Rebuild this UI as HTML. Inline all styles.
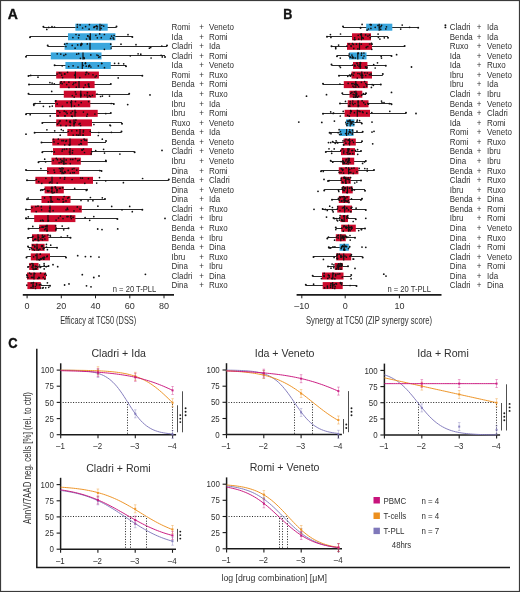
<!DOCTYPE html><html><head><meta charset="utf-8"><style>html,body{margin:0;padding:0;background:#fff;}svg{display:block;will-change:transform}</style></head><body>
<svg width="520" height="592" viewBox="0 0 520 592" font-family='"Liberation Sans", sans-serif'>
<rect x="0" y="0" width="520" height="592" fill="#fff"/>
<rect x="0.5" y="0.5" width="519" height="591" fill="none" stroke="#3a3a3a" stroke-width="1.2"/>
<text x="7.8" y="19.2" font-size="14" font-weight="bold" fill="#111" stroke="#111" stroke-width="0.35">A</text>
<text transform="matrix(0.9,0,0,1,283.2,19.3)" font-size="14" font-weight="bold" fill="#111" stroke="#111" stroke-width="0.35">B</text>
<text transform="matrix(0.92,0,0,1,8.2,347.8)" font-size="14" font-weight="bold" fill="#111" stroke="#111" stroke-width="0.35">C</text>
<line x1="43.4" y1="27.50" x2="116.5" y2="27.50" stroke="#2a2a2a" stroke-width="1.0"/>
<circle cx="43.4" cy="26.85" r="1.0" fill="#111"/>
<circle cx="116.5" cy="26.50" r="1.0" fill="#111"/>
<rect x="75.4" y="23.70" width="32.3" height="7.0" fill="#3aa6dd"/>
<line x1="100.0" y1="23.70" x2="100.0" y2="30.70" stroke="#111" stroke-width="1.2"/>
<circle cx="48.7" cy="27.4" r="0.85" fill="#111"/>
<circle cx="77.3" cy="27.2" r="0.85" fill="#111"/>
<circle cx="89.4" cy="24.6" r="0.85" fill="#111"/>
<circle cx="89.1" cy="29.2" r="0.85" fill="#111"/>
<circle cx="82.6" cy="28.0" r="0.85" fill="#111"/>
<circle cx="85.6" cy="26.6" r="0.85" fill="#111"/>
<circle cx="46.8" cy="29.4" r="0.85" fill="#111"/>
<circle cx="80.1" cy="24.9" r="0.85" fill="#111"/>
<circle cx="101.8" cy="25.3" r="0.85" fill="#111"/>
<circle cx="96.0" cy="26.4" r="0.85" fill="#111"/>
<circle cx="77.4" cy="24.6" r="0.85" fill="#111"/>
<circle cx="97.4" cy="26.8" r="0.85" fill="#111"/>
<circle cx="94.3" cy="26.9" r="0.85" fill="#111"/>
<circle cx="101.1" cy="28.4" r="0.85" fill="#111"/>
<circle cx="94.0" cy="27.4" r="0.85" fill="#111"/>
<circle cx="96.7" cy="25.9" r="0.85" fill="#111"/>
<circle cx="52.0" cy="26.7" r="0.85" fill="#111"/>
<circle cx="54.5" cy="27.1" r="0.85" fill="#111"/>
<circle cx="97.0" cy="28.8" r="0.85" fill="#111"/>
<circle cx="103.7" cy="26.1" r="0.85" fill="#111"/>
<line x1="30.0" y1="36.50" x2="132.3" y2="36.50" stroke="#2a2a2a" stroke-width="1.0"/>
<circle cx="30.0" cy="37.16" r="1.0" fill="#111"/>
<circle cx="132.3" cy="36.96" r="1.0" fill="#111"/>
<rect x="68.0" y="33.27" width="47.4" height="7.0" fill="#3aa6dd"/>
<line x1="90.3" y1="33.27" x2="90.3" y2="40.27" stroke="#111" stroke-width="1.2"/>
<circle cx="89.6" cy="38.8" r="0.85" fill="#111"/>
<circle cx="78.5" cy="37.8" r="0.85" fill="#111"/>
<circle cx="101.3" cy="37.7" r="0.85" fill="#111"/>
<circle cx="114.1" cy="35.5" r="0.85" fill="#111"/>
<circle cx="99.7" cy="33.9" r="0.85" fill="#111"/>
<circle cx="76.0" cy="34.5" r="0.85" fill="#111"/>
<circle cx="104.4" cy="34.5" r="0.85" fill="#111"/>
<circle cx="86.5" cy="39.0" r="0.85" fill="#111"/>
<circle cx="89.3" cy="37.1" r="0.85" fill="#111"/>
<circle cx="113.8" cy="39.0" r="0.85" fill="#111"/>
<circle cx="87.7" cy="35.9" r="0.85" fill="#111"/>
<circle cx="128.0" cy="34.7" r="0.85" fill="#111"/>
<circle cx="79.0" cy="35.2" r="0.85" fill="#111"/>
<circle cx="95.9" cy="35.3" r="0.85" fill="#111"/>
<circle cx="87.9" cy="36.0" r="0.85" fill="#111"/>
<circle cx="113.2" cy="37.9" r="0.85" fill="#111"/>
<circle cx="97.3" cy="37.8" r="0.85" fill="#111"/>
<circle cx="110.6" cy="38.4" r="0.85" fill="#111"/>
<circle cx="111.6" cy="36.1" r="0.85" fill="#111"/>
<circle cx="72.9" cy="37.6" r="0.85" fill="#111"/>
<line x1="47.7" y1="46.50" x2="167.0" y2="46.50" stroke="#2a2a2a" stroke-width="1.0"/>
<circle cx="47.7" cy="45.46" r="1.0" fill="#111"/>
<circle cx="167.0" cy="45.47" r="1.0" fill="#111"/>
<rect x="64.6" y="42.84" width="46.9" height="7.0" fill="#3aa6dd"/>
<line x1="90.0" y1="42.84" x2="90.0" y2="49.84" stroke="#111" stroke-width="1.2"/>
<circle cx="72.2" cy="45.4" r="0.85" fill="#111"/>
<circle cx="64.6" cy="44.2" r="0.85" fill="#111"/>
<circle cx="81.7" cy="43.5" r="0.85" fill="#111"/>
<circle cx="121.0" cy="44.2" r="0.85" fill="#111"/>
<circle cx="80.9" cy="45.5" r="0.85" fill="#111"/>
<circle cx="104.4" cy="49.3" r="0.85" fill="#111"/>
<circle cx="87.3" cy="43.9" r="0.85" fill="#111"/>
<circle cx="80.7" cy="44.9" r="0.85" fill="#111"/>
<circle cx="67.0" cy="43.5" r="0.85" fill="#111"/>
<circle cx="110.7" cy="44.2" r="0.85" fill="#111"/>
<circle cx="65.9" cy="46.5" r="0.85" fill="#111"/>
<circle cx="150.7" cy="47.5" r="0.85" fill="#111"/>
<circle cx="81.8" cy="44.3" r="0.85" fill="#111"/>
<circle cx="111.2" cy="48.0" r="0.85" fill="#111"/>
<circle cx="75.1" cy="48.2" r="0.85" fill="#111"/>
<circle cx="149.4" cy="48.2" r="0.85" fill="#111"/>
<circle cx="136.0" cy="44.7" r="0.85" fill="#111"/>
<circle cx="81.3" cy="43.5" r="0.85" fill="#111"/>
<circle cx="77.7" cy="44.9" r="0.85" fill="#111"/>
<circle cx="161.8" cy="46.0" r="0.85" fill="#111"/>
<line x1="26.0" y1="55.50" x2="165.0" y2="55.50" stroke="#2a2a2a" stroke-width="1.0"/>
<circle cx="26.0" cy="56.78" r="1.0" fill="#111"/>
<circle cx="165.0" cy="56.89" r="1.0" fill="#111"/>
<rect x="50.8" y="52.41" width="50.7" height="7.0" fill="#3aa6dd"/>
<line x1="83.0" y1="52.41" x2="83.0" y2="59.41" stroke="#111" stroke-width="1.2"/>
<circle cx="76.7" cy="54.2" r="0.85" fill="#111"/>
<circle cx="60.8" cy="54.1" r="0.85" fill="#111"/>
<circle cx="151.1" cy="58.0" r="0.85" fill="#111"/>
<circle cx="83.9" cy="57.7" r="0.85" fill="#111"/>
<circle cx="84.3" cy="58.4" r="0.85" fill="#111"/>
<circle cx="130.3" cy="55.8" r="0.85" fill="#111"/>
<circle cx="90.8" cy="54.9" r="0.85" fill="#111"/>
<circle cx="161.1" cy="55.3" r="0.85" fill="#111"/>
<circle cx="98.8" cy="57.3" r="0.85" fill="#111"/>
<circle cx="57.2" cy="53.8" r="0.85" fill="#111"/>
<circle cx="138.1" cy="53.8" r="0.85" fill="#111"/>
<circle cx="162.3" cy="56.9" r="0.85" fill="#111"/>
<circle cx="78.6" cy="53.7" r="0.85" fill="#111"/>
<circle cx="100.0" cy="56.8" r="0.85" fill="#111"/>
<circle cx="98.1" cy="55.5" r="0.85" fill="#111"/>
<circle cx="140.8" cy="54.2" r="0.85" fill="#111"/>
<circle cx="65.7" cy="54.4" r="0.85" fill="#111"/>
<circle cx="63.9" cy="55.4" r="0.85" fill="#111"/>
<circle cx="96.9" cy="55.0" r="0.85" fill="#111"/>
<circle cx="80.4" cy="58.3" r="0.85" fill="#111"/>
<line x1="54.6" y1="65.50" x2="126.0" y2="65.50" stroke="#2a2a2a" stroke-width="1.0"/>
<circle cx="54.6" cy="65.32" r="1.0" fill="#111"/>
<circle cx="126.0" cy="66.32" r="1.0" fill="#111"/>
<rect x="65.4" y="61.98" width="45.4" height="7.0" fill="#3aa6dd"/>
<line x1="82.3" y1="61.98" x2="82.3" y2="68.98" stroke="#111" stroke-width="1.2"/>
<circle cx="89.5" cy="65.6" r="0.85" fill="#111"/>
<circle cx="85.4" cy="63.6" r="0.85" fill="#111"/>
<circle cx="101.7" cy="63.5" r="0.85" fill="#111"/>
<circle cx="98.3" cy="65.8" r="0.85" fill="#111"/>
<circle cx="88.9" cy="65.8" r="0.85" fill="#111"/>
<circle cx="62.2" cy="65.8" r="0.85" fill="#111"/>
<circle cx="78.0" cy="67.1" r="0.85" fill="#111"/>
<circle cx="90.9" cy="67.0" r="0.85" fill="#111"/>
<circle cx="86.2" cy="66.2" r="0.85" fill="#111"/>
<circle cx="88.7" cy="66.6" r="0.85" fill="#111"/>
<circle cx="89.6" cy="65.3" r="0.85" fill="#111"/>
<circle cx="104.5" cy="67.7" r="0.85" fill="#111"/>
<circle cx="73.1" cy="65.8" r="0.85" fill="#111"/>
<circle cx="114.6" cy="63.3" r="0.85" fill="#111"/>
<circle cx="85.5" cy="62.9" r="0.85" fill="#111"/>
<circle cx="68.7" cy="66.5" r="0.85" fill="#111"/>
<circle cx="118.6" cy="63.4" r="0.85" fill="#111"/>
<circle cx="101.7" cy="63.3" r="0.85" fill="#111"/>
<circle cx="123.7" cy="63.8" r="0.85" fill="#111"/>
<circle cx="83.0" cy="65.4" r="0.85" fill="#111"/>
<line x1="28.5" y1="75.50" x2="142.3" y2="75.50" stroke="#2a2a2a" stroke-width="1.0"/>
<circle cx="28.5" cy="76.03" r="1.0" fill="#111"/>
<circle cx="142.3" cy="75.71" r="1.0" fill="#111"/>
<rect x="56.2" y="71.55" width="42.7" height="7.0" fill="#cc0a2c"/>
<line x1="75.4" y1="71.55" x2="75.4" y2="78.55" stroke="#111" stroke-width="1.2"/>
<circle cx="74.6" cy="75.1" r="0.85" fill="#111"/>
<circle cx="64.6" cy="74.0" r="0.85" fill="#111"/>
<circle cx="30.7" cy="75.4" r="0.85" fill="#111"/>
<circle cx="57.0" cy="74.0" r="0.85" fill="#111"/>
<circle cx="86.8" cy="72.4" r="0.85" fill="#111"/>
<circle cx="118.2" cy="77.9" r="0.85" fill="#111"/>
<circle cx="67.5" cy="72.3" r="0.85" fill="#111"/>
<circle cx="59.3" cy="72.8" r="0.85" fill="#111"/>
<circle cx="95.1" cy="77.0" r="0.85" fill="#111"/>
<circle cx="62.6" cy="77.6" r="0.85" fill="#111"/>
<circle cx="86.1" cy="72.6" r="0.85" fill="#111"/>
<circle cx="85.6" cy="74.6" r="0.85" fill="#111"/>
<circle cx="96.3" cy="75.9" r="0.85" fill="#111"/>
<circle cx="38.0" cy="77.2" r="0.85" fill="#111"/>
<circle cx="93.0" cy="74.8" r="0.85" fill="#111"/>
<circle cx="79.8" cy="77.6" r="0.85" fill="#111"/>
<circle cx="61.7" cy="75.2" r="0.85" fill="#111"/>
<circle cx="60.9" cy="73.0" r="0.85" fill="#111"/>
<circle cx="64.8" cy="73.9" r="0.85" fill="#111"/>
<circle cx="88.6" cy="73.8" r="0.85" fill="#111"/>
<line x1="29.0" y1="84.50" x2="110.8" y2="84.50" stroke="#2a2a2a" stroke-width="1.0"/>
<circle cx="29.0" cy="84.62" r="1.0" fill="#111"/>
<circle cx="110.8" cy="83.98" r="1.0" fill="#111"/>
<rect x="59.7" y="81.12" width="34.9" height="7.0" fill="#cc0a2c"/>
<line x1="79.0" y1="81.12" x2="79.0" y2="88.12" stroke="#111" stroke-width="1.2"/>
<circle cx="60.3" cy="83.1" r="0.85" fill="#111"/>
<circle cx="85.3" cy="84.9" r="0.85" fill="#111"/>
<circle cx="76.3" cy="87.2" r="0.85" fill="#111"/>
<circle cx="88.3" cy="84.2" r="0.85" fill="#111"/>
<circle cx="88.8" cy="84.0" r="0.85" fill="#111"/>
<circle cx="83.7" cy="87.5" r="0.85" fill="#111"/>
<circle cx="88.7" cy="85.9" r="0.85" fill="#111"/>
<circle cx="62.1" cy="83.7" r="0.85" fill="#111"/>
<circle cx="64.2" cy="82.0" r="0.85" fill="#111"/>
<circle cx="49.9" cy="82.6" r="0.85" fill="#111"/>
<circle cx="89.1" cy="86.8" r="0.85" fill="#111"/>
<circle cx="52.1" cy="83.1" r="0.85" fill="#111"/>
<circle cx="75.7" cy="82.6" r="0.85" fill="#111"/>
<circle cx="68.9" cy="87.4" r="0.85" fill="#111"/>
<circle cx="73.8" cy="83.1" r="0.85" fill="#111"/>
<circle cx="54.3" cy="83.8" r="0.85" fill="#111"/>
<circle cx="73.0" cy="84.5" r="0.85" fill="#111"/>
<circle cx="66.7" cy="84.6" r="0.85" fill="#111"/>
<circle cx="68.9" cy="82.2" r="0.85" fill="#111"/>
<circle cx="61.2" cy="81.8" r="0.85" fill="#111"/>
<line x1="28.5" y1="94.50" x2="129.2" y2="94.50" stroke="#2a2a2a" stroke-width="1.0"/>
<circle cx="28.5" cy="93.80" r="1.0" fill="#111"/>
<circle cx="129.2" cy="93.66" r="1.0" fill="#111"/>
<rect x="63.8" y="90.69" width="32.0" height="7.0" fill="#cc0a2c"/>
<line x1="80.8" y1="90.69" x2="80.8" y2="97.69" stroke="#111" stroke-width="1.2"/>
<circle cx="80.7" cy="95.7" r="0.85" fill="#111"/>
<circle cx="100.6" cy="96.5" r="0.85" fill="#111"/>
<circle cx="74.2" cy="97.1" r="0.85" fill="#111"/>
<circle cx="87.0" cy="95.0" r="0.85" fill="#111"/>
<circle cx="90.5" cy="96.5" r="0.85" fill="#111"/>
<circle cx="102.4" cy="96.1" r="0.85" fill="#111"/>
<circle cx="80.6" cy="94.2" r="0.85" fill="#111"/>
<circle cx="109.5" cy="96.1" r="0.85" fill="#111"/>
<circle cx="92.4" cy="95.3" r="0.85" fill="#111"/>
<circle cx="51.7" cy="91.4" r="0.85" fill="#111"/>
<circle cx="75.3" cy="91.8" r="0.85" fill="#111"/>
<circle cx="84.7" cy="95.0" r="0.85" fill="#111"/>
<circle cx="97.0" cy="94.1" r="0.85" fill="#111"/>
<circle cx="89.3" cy="95.7" r="0.85" fill="#111"/>
<circle cx="80.9" cy="95.1" r="0.85" fill="#111"/>
<circle cx="87.4" cy="92.7" r="0.85" fill="#111"/>
<circle cx="72.3" cy="95.6" r="0.85" fill="#111"/>
<circle cx="87.5" cy="97.0" r="0.85" fill="#111"/>
<circle cx="76.0" cy="94.1" r="0.85" fill="#111"/>
<circle cx="150.0" cy="94.9" r="0.9" fill="#111"/>
<line x1="33.8" y1="103.50" x2="113.8" y2="103.50" stroke="#2a2a2a" stroke-width="1.0"/>
<circle cx="33.8" cy="104.29" r="1.0" fill="#111"/>
<circle cx="113.8" cy="103.99" r="1.0" fill="#111"/>
<rect x="55.0" y="100.26" width="35.3" height="7.0" fill="#cc0a2c"/>
<line x1="71.5" y1="100.26" x2="71.5" y2="107.26" stroke="#111" stroke-width="1.2"/>
<circle cx="40.0" cy="101.6" r="0.85" fill="#111"/>
<circle cx="81.2" cy="102.6" r="0.85" fill="#111"/>
<circle cx="55.4" cy="101.1" r="0.85" fill="#111"/>
<circle cx="78.7" cy="104.9" r="0.85" fill="#111"/>
<circle cx="57.1" cy="103.9" r="0.85" fill="#111"/>
<circle cx="71.5" cy="101.5" r="0.85" fill="#111"/>
<circle cx="49.7" cy="106.6" r="0.85" fill="#111"/>
<circle cx="35.2" cy="103.5" r="0.85" fill="#111"/>
<circle cx="111.2" cy="103.5" r="0.85" fill="#111"/>
<circle cx="62.4" cy="106.4" r="0.85" fill="#111"/>
<circle cx="75.5" cy="101.6" r="0.85" fill="#111"/>
<circle cx="88.6" cy="101.6" r="0.85" fill="#111"/>
<circle cx="74.5" cy="106.1" r="0.85" fill="#111"/>
<circle cx="52.3" cy="106.1" r="0.85" fill="#111"/>
<circle cx="55.9" cy="100.8" r="0.85" fill="#111"/>
<circle cx="70.9" cy="102.6" r="0.85" fill="#111"/>
<circle cx="67.1" cy="102.7" r="0.85" fill="#111"/>
<circle cx="33.9" cy="105.3" r="0.85" fill="#111"/>
<circle cx="43.4" cy="106.3" r="0.85" fill="#111"/>
<circle cx="127.7" cy="104.6" r="0.9" fill="#111"/>
<line x1="26.0" y1="113.50" x2="110.8" y2="113.50" stroke="#2a2a2a" stroke-width="1.0"/>
<circle cx="26.0" cy="114.13" r="1.0" fill="#111"/>
<circle cx="110.8" cy="112.91" r="1.0" fill="#111"/>
<rect x="56.0" y="109.83" width="41.7" height="7.0" fill="#cc0a2c"/>
<line x1="75.0" y1="109.83" x2="75.0" y2="116.83" stroke="#111" stroke-width="1.2"/>
<circle cx="72.4" cy="116.3" r="0.85" fill="#111"/>
<circle cx="71.0" cy="112.9" r="0.85" fill="#111"/>
<circle cx="58.0" cy="110.9" r="0.85" fill="#111"/>
<circle cx="50.2" cy="115.9" r="0.85" fill="#111"/>
<circle cx="67.1" cy="113.4" r="0.85" fill="#111"/>
<circle cx="71.6" cy="116.1" r="0.85" fill="#111"/>
<circle cx="94.9" cy="114.1" r="0.85" fill="#111"/>
<circle cx="105.8" cy="113.6" r="0.85" fill="#111"/>
<circle cx="30.2" cy="114.7" r="0.85" fill="#111"/>
<circle cx="87.4" cy="114.2" r="0.85" fill="#111"/>
<circle cx="58.0" cy="115.9" r="0.85" fill="#111"/>
<circle cx="75.7" cy="112.4" r="0.85" fill="#111"/>
<circle cx="86.8" cy="116.2" r="0.85" fill="#111"/>
<circle cx="83.4" cy="112.1" r="0.85" fill="#111"/>
<circle cx="72.4" cy="111.3" r="0.85" fill="#111"/>
<circle cx="64.7" cy="115.8" r="0.85" fill="#111"/>
<circle cx="65.2" cy="115.8" r="0.85" fill="#111"/>
<circle cx="64.2" cy="111.2" r="0.85" fill="#111"/>
<circle cx="59.8" cy="112.4" r="0.85" fill="#111"/>
<circle cx="66.0" cy="111.9" r="0.85" fill="#111"/>
<line x1="42.3" y1="122.50" x2="122.0" y2="122.50" stroke="#2a2a2a" stroke-width="1.0"/>
<circle cx="42.3" cy="123.04" r="1.0" fill="#111"/>
<circle cx="122.0" cy="123.67" r="1.0" fill="#111"/>
<rect x="56.2" y="119.40" width="35.8" height="7.0" fill="#cc0a2c"/>
<line x1="74.0" y1="119.40" x2="74.0" y2="126.40" stroke="#111" stroke-width="1.2"/>
<circle cx="75.2" cy="122.4" r="0.85" fill="#111"/>
<circle cx="69.7" cy="121.9" r="0.85" fill="#111"/>
<circle cx="66.1" cy="125.7" r="0.85" fill="#111"/>
<circle cx="74.2" cy="123.7" r="0.85" fill="#111"/>
<circle cx="59.5" cy="121.5" r="0.85" fill="#111"/>
<circle cx="70.5" cy="122.6" r="0.85" fill="#111"/>
<circle cx="109.9" cy="125.1" r="0.85" fill="#111"/>
<circle cx="57.4" cy="124.2" r="0.85" fill="#111"/>
<circle cx="80.0" cy="123.4" r="0.85" fill="#111"/>
<circle cx="70.2" cy="125.5" r="0.85" fill="#111"/>
<circle cx="110.5" cy="125.7" r="0.85" fill="#111"/>
<circle cx="60.1" cy="120.8" r="0.85" fill="#111"/>
<circle cx="80.6" cy="125.5" r="0.85" fill="#111"/>
<circle cx="93.9" cy="124.5" r="0.85" fill="#111"/>
<circle cx="75.9" cy="120.1" r="0.85" fill="#111"/>
<circle cx="60.8" cy="125.4" r="0.85" fill="#111"/>
<circle cx="66.5" cy="120.7" r="0.85" fill="#111"/>
<circle cx="79.0" cy="124.1" r="0.85" fill="#111"/>
<circle cx="58.7" cy="123.0" r="0.85" fill="#111"/>
<circle cx="70.1" cy="121.2" r="0.85" fill="#111"/>
<line x1="34.6" y1="132.50" x2="121.5" y2="132.50" stroke="#2a2a2a" stroke-width="1.0"/>
<circle cx="34.6" cy="132.67" r="1.0" fill="#111"/>
<circle cx="121.5" cy="131.49" r="1.0" fill="#111"/>
<rect x="67.4" y="128.97" width="23.6" height="7.0" fill="#cc0a2c"/>
<line x1="80.0" y1="128.97" x2="80.0" y2="135.97" stroke="#111" stroke-width="1.2"/>
<circle cx="78.3" cy="135.2" r="0.85" fill="#111"/>
<circle cx="111.4" cy="132.3" r="0.85" fill="#111"/>
<circle cx="73.2" cy="135.2" r="0.85" fill="#111"/>
<circle cx="61.3" cy="129.6" r="0.85" fill="#111"/>
<circle cx="83.3" cy="132.0" r="0.85" fill="#111"/>
<circle cx="83.1" cy="135.0" r="0.85" fill="#111"/>
<circle cx="68.2" cy="131.5" r="0.85" fill="#111"/>
<circle cx="83.5" cy="130.7" r="0.85" fill="#111"/>
<circle cx="98.8" cy="132.5" r="0.85" fill="#111"/>
<circle cx="90.3" cy="131.3" r="0.85" fill="#111"/>
<circle cx="54.7" cy="130.8" r="0.85" fill="#111"/>
<circle cx="60.2" cy="135.2" r="0.85" fill="#111"/>
<circle cx="71.8" cy="130.8" r="0.85" fill="#111"/>
<circle cx="83.1" cy="135.2" r="0.85" fill="#111"/>
<circle cx="76.7" cy="130.7" r="0.85" fill="#111"/>
<circle cx="46.9" cy="129.8" r="0.85" fill="#111"/>
<circle cx="76.7" cy="134.9" r="0.85" fill="#111"/>
<circle cx="98.3" cy="135.5" r="0.85" fill="#111"/>
<circle cx="63.2" cy="130.6" r="0.85" fill="#111"/>
<circle cx="26.0" cy="134.2" r="0.9" fill="#111"/>
<line x1="41.5" y1="142.50" x2="106.0" y2="142.50" stroke="#2a2a2a" stroke-width="1.0"/>
<circle cx="41.5" cy="142.53" r="1.0" fill="#111"/>
<circle cx="106.0" cy="141.10" r="1.0" fill="#111"/>
<rect x="52.3" y="138.54" width="35.4" height="7.0" fill="#cc0a2c"/>
<line x1="70.0" y1="138.54" x2="70.0" y2="145.54" stroke="#111" stroke-width="1.2"/>
<circle cx="65.9" cy="141.3" r="0.85" fill="#111"/>
<circle cx="58.3" cy="139.1" r="0.85" fill="#111"/>
<circle cx="64.7" cy="144.8" r="0.85" fill="#111"/>
<circle cx="86.4" cy="140.3" r="0.85" fill="#111"/>
<circle cx="81.4" cy="144.0" r="0.85" fill="#111"/>
<circle cx="54.0" cy="141.9" r="0.85" fill="#111"/>
<circle cx="84.9" cy="140.2" r="0.85" fill="#111"/>
<circle cx="84.1" cy="139.2" r="0.85" fill="#111"/>
<circle cx="81.0" cy="143.6" r="0.85" fill="#111"/>
<circle cx="53.5" cy="139.4" r="0.85" fill="#111"/>
<circle cx="58.1" cy="143.5" r="0.85" fill="#111"/>
<circle cx="63.4" cy="140.7" r="0.85" fill="#111"/>
<circle cx="81.3" cy="140.6" r="0.85" fill="#111"/>
<circle cx="61.9" cy="140.7" r="0.85" fill="#111"/>
<circle cx="79.1" cy="144.5" r="0.85" fill="#111"/>
<circle cx="102.3" cy="139.2" r="0.85" fill="#111"/>
<circle cx="69.1" cy="144.8" r="0.85" fill="#111"/>
<circle cx="66.4" cy="140.5" r="0.85" fill="#111"/>
<circle cx="69.8" cy="144.6" r="0.85" fill="#111"/>
<circle cx="80.7" cy="143.5" r="0.85" fill="#111"/>
<line x1="42.3" y1="151.50" x2="134.6" y2="151.50" stroke="#2a2a2a" stroke-width="1.0"/>
<circle cx="42.3" cy="152.26" r="1.0" fill="#111"/>
<circle cx="134.6" cy="152.16" r="1.0" fill="#111"/>
<rect x="53.0" y="148.11" width="39.0" height="7.0" fill="#cc0a2c"/>
<line x1="70.0" y1="148.11" x2="70.0" y2="155.11" stroke="#111" stroke-width="1.2"/>
<circle cx="72.6" cy="150.5" r="0.85" fill="#111"/>
<circle cx="83.5" cy="149.1" r="0.85" fill="#111"/>
<circle cx="82.4" cy="150.1" r="0.85" fill="#111"/>
<circle cx="54.3" cy="151.9" r="0.85" fill="#111"/>
<circle cx="91.2" cy="153.9" r="0.85" fill="#111"/>
<circle cx="66.7" cy="149.1" r="0.85" fill="#111"/>
<circle cx="72.4" cy="152.9" r="0.85" fill="#111"/>
<circle cx="62.1" cy="151.1" r="0.85" fill="#111"/>
<circle cx="104.5" cy="153.1" r="0.85" fill="#111"/>
<circle cx="103.6" cy="149.3" r="0.85" fill="#111"/>
<circle cx="69.4" cy="152.0" r="0.85" fill="#111"/>
<circle cx="81.8" cy="149.8" r="0.85" fill="#111"/>
<circle cx="62.6" cy="149.5" r="0.85" fill="#111"/>
<circle cx="95.7" cy="150.6" r="0.85" fill="#111"/>
<circle cx="91.7" cy="151.7" r="0.85" fill="#111"/>
<circle cx="84.5" cy="152.5" r="0.85" fill="#111"/>
<circle cx="51.7" cy="151.5" r="0.85" fill="#111"/>
<circle cx="119.9" cy="154.1" r="0.85" fill="#111"/>
<circle cx="64.5" cy="149.3" r="0.85" fill="#111"/>
<circle cx="162.0" cy="150.4" r="0.9" fill="#111"/>
<line x1="38.5" y1="161.50" x2="106.0" y2="161.50" stroke="#2a2a2a" stroke-width="1.0"/>
<circle cx="38.5" cy="162.13" r="1.0" fill="#111"/>
<circle cx="106.0" cy="161.35" r="1.0" fill="#111"/>
<rect x="51.5" y="157.68" width="29.3" height="7.0" fill="#cc0a2c"/>
<line x1="64.0" y1="157.68" x2="64.0" y2="164.68" stroke="#111" stroke-width="1.2"/>
<circle cx="63.6" cy="163.4" r="0.85" fill="#111"/>
<circle cx="59.1" cy="162.8" r="0.85" fill="#111"/>
<circle cx="45.6" cy="161.8" r="0.85" fill="#111"/>
<circle cx="53.2" cy="160.4" r="0.85" fill="#111"/>
<circle cx="57.5" cy="159.7" r="0.85" fill="#111"/>
<circle cx="70.6" cy="159.4" r="0.85" fill="#111"/>
<circle cx="61.1" cy="162.2" r="0.85" fill="#111"/>
<circle cx="60.6" cy="159.4" r="0.85" fill="#111"/>
<circle cx="75.5" cy="158.6" r="0.85" fill="#111"/>
<circle cx="63.1" cy="161.5" r="0.85" fill="#111"/>
<circle cx="44.7" cy="159.2" r="0.85" fill="#111"/>
<circle cx="66.2" cy="159.9" r="0.85" fill="#111"/>
<circle cx="79.4" cy="160.1" r="0.85" fill="#111"/>
<circle cx="62.0" cy="160.7" r="0.85" fill="#111"/>
<circle cx="105.8" cy="160.4" r="0.85" fill="#111"/>
<circle cx="72.8" cy="159.4" r="0.85" fill="#111"/>
<circle cx="77.9" cy="160.7" r="0.85" fill="#111"/>
<circle cx="65.9" cy="163.5" r="0.85" fill="#111"/>
<circle cx="56.3" cy="158.3" r="0.85" fill="#111"/>
<circle cx="70.3" cy="163.6" r="0.85" fill="#111"/>
<line x1="26.0" y1="170.50" x2="101.5" y2="170.50" stroke="#2a2a2a" stroke-width="1.0"/>
<circle cx="26.0" cy="169.93" r="1.0" fill="#111"/>
<circle cx="101.5" cy="170.99" r="1.0" fill="#111"/>
<rect x="47.0" y="167.25" width="32.2" height="7.0" fill="#cc0a2c"/>
<line x1="62.0" y1="167.25" x2="62.0" y2="174.25" stroke="#111" stroke-width="1.2"/>
<circle cx="63.2" cy="168.6" r="0.85" fill="#111"/>
<circle cx="63.8" cy="173.3" r="0.85" fill="#111"/>
<circle cx="62.8" cy="172.6" r="0.85" fill="#111"/>
<circle cx="40.9" cy="168.5" r="0.85" fill="#111"/>
<circle cx="99.7" cy="170.6" r="0.85" fill="#111"/>
<circle cx="76.8" cy="170.1" r="0.85" fill="#111"/>
<circle cx="72.8" cy="172.7" r="0.85" fill="#111"/>
<circle cx="72.3" cy="169.1" r="0.85" fill="#111"/>
<circle cx="74.3" cy="172.7" r="0.85" fill="#111"/>
<circle cx="54.0" cy="170.1" r="0.85" fill="#111"/>
<circle cx="59.4" cy="168.5" r="0.85" fill="#111"/>
<circle cx="70.3" cy="173.1" r="0.85" fill="#111"/>
<circle cx="65.1" cy="172.3" r="0.85" fill="#111"/>
<circle cx="74.0" cy="168.5" r="0.85" fill="#111"/>
<circle cx="64.7" cy="171.5" r="0.85" fill="#111"/>
<circle cx="60.5" cy="171.2" r="0.85" fill="#111"/>
<circle cx="68.2" cy="170.4" r="0.85" fill="#111"/>
<circle cx="47.8" cy="171.5" r="0.85" fill="#111"/>
<circle cx="54.6" cy="172.3" r="0.85" fill="#111"/>
<circle cx="60.6" cy="168.8" r="0.85" fill="#111"/>
<line x1="27.0" y1="180.50" x2="168.8" y2="180.50" stroke="#2a2a2a" stroke-width="1.0"/>
<circle cx="27.0" cy="180.27" r="1.0" fill="#111"/>
<circle cx="168.8" cy="179.53" r="1.0" fill="#111"/>
<rect x="35.4" y="176.82" width="57.6" height="7.0" fill="#cc0a2c"/>
<line x1="52.0" y1="176.82" x2="52.0" y2="183.82" stroke="#111" stroke-width="1.2"/>
<circle cx="60.2" cy="177.9" r="0.85" fill="#111"/>
<circle cx="64.8" cy="177.6" r="0.85" fill="#111"/>
<circle cx="38.7" cy="181.7" r="0.85" fill="#111"/>
<circle cx="99.5" cy="177.6" r="0.85" fill="#111"/>
<circle cx="57.2" cy="183.0" r="0.85" fill="#111"/>
<circle cx="84.8" cy="183.3" r="0.85" fill="#111"/>
<circle cx="142.6" cy="178.5" r="0.85" fill="#111"/>
<circle cx="96.7" cy="183.1" r="0.85" fill="#111"/>
<circle cx="50.4" cy="182.1" r="0.85" fill="#111"/>
<circle cx="36.3" cy="179.4" r="0.85" fill="#111"/>
<circle cx="49.5" cy="182.7" r="0.85" fill="#111"/>
<circle cx="82.4" cy="178.2" r="0.85" fill="#111"/>
<circle cx="88.4" cy="178.6" r="0.85" fill="#111"/>
<circle cx="64.5" cy="179.2" r="0.85" fill="#111"/>
<circle cx="45.9" cy="178.3" r="0.85" fill="#111"/>
<circle cx="123.4" cy="182.7" r="0.85" fill="#111"/>
<circle cx="80.6" cy="178.0" r="0.85" fill="#111"/>
<circle cx="72.1" cy="179.5" r="0.85" fill="#111"/>
<circle cx="105.7" cy="180.8" r="0.85" fill="#111"/>
<circle cx="41.8" cy="183.3" r="0.85" fill="#111"/>
<line x1="40.8" y1="189.50" x2="87.0" y2="189.50" stroke="#2a2a2a" stroke-width="1.0"/>
<circle cx="40.8" cy="190.15" r="1.0" fill="#111"/>
<circle cx="87.0" cy="189.68" r="1.0" fill="#111"/>
<rect x="44.6" y="186.39" width="19.2" height="7.0" fill="#cc0a2c"/>
<line x1="52.0" y1="186.39" x2="52.0" y2="193.39" stroke="#111" stroke-width="1.2"/>
<circle cx="53.0" cy="192.8" r="0.85" fill="#111"/>
<circle cx="51.5" cy="191.5" r="0.85" fill="#111"/>
<circle cx="48.0" cy="191.4" r="0.85" fill="#111"/>
<circle cx="60.3" cy="188.4" r="0.85" fill="#111"/>
<circle cx="86.3" cy="190.4" r="0.85" fill="#111"/>
<circle cx="55.2" cy="186.9" r="0.85" fill="#111"/>
<circle cx="47.5" cy="190.6" r="0.85" fill="#111"/>
<circle cx="54.4" cy="192.3" r="0.85" fill="#111"/>
<circle cx="49.0" cy="190.8" r="0.85" fill="#111"/>
<circle cx="44.7" cy="189.0" r="0.85" fill="#111"/>
<circle cx="51.5" cy="188.2" r="0.85" fill="#111"/>
<circle cx="55.9" cy="188.1" r="0.85" fill="#111"/>
<circle cx="62.7" cy="187.7" r="0.85" fill="#111"/>
<circle cx="52.1" cy="187.8" r="0.85" fill="#111"/>
<circle cx="56.9" cy="192.1" r="0.85" fill="#111"/>
<circle cx="59.4" cy="188.5" r="0.85" fill="#111"/>
<circle cx="57.0" cy="190.3" r="0.85" fill="#111"/>
<circle cx="57.0" cy="189.6" r="0.85" fill="#111"/>
<circle cx="74.7" cy="188.4" r="0.85" fill="#111"/>
<circle cx="42.8" cy="190.1" r="0.85" fill="#111"/>
<line x1="27.0" y1="199.50" x2="105.0" y2="199.50" stroke="#2a2a2a" stroke-width="1.0"/>
<circle cx="27.0" cy="199.27" r="1.0" fill="#111"/>
<circle cx="105.0" cy="198.94" r="1.0" fill="#111"/>
<rect x="41.5" y="195.96" width="29.0" height="7.0" fill="#cc0a2c"/>
<line x1="51.0" y1="195.96" x2="51.0" y2="202.96" stroke="#111" stroke-width="1.2"/>
<circle cx="64.1" cy="196.5" r="0.85" fill="#111"/>
<circle cx="68.8" cy="197.3" r="0.85" fill="#111"/>
<circle cx="59.1" cy="199.5" r="0.85" fill="#111"/>
<circle cx="90.4" cy="197.5" r="0.85" fill="#111"/>
<circle cx="50.2" cy="196.8" r="0.85" fill="#111"/>
<circle cx="88.1" cy="200.8" r="0.85" fill="#111"/>
<circle cx="66.0" cy="200.9" r="0.85" fill="#111"/>
<circle cx="63.0" cy="199.2" r="0.85" fill="#111"/>
<circle cx="44.6" cy="197.9" r="0.85" fill="#111"/>
<circle cx="51.2" cy="201.0" r="0.85" fill="#111"/>
<circle cx="92.9" cy="200.7" r="0.85" fill="#111"/>
<circle cx="57.6" cy="199.1" r="0.85" fill="#111"/>
<circle cx="67.8" cy="198.1" r="0.85" fill="#111"/>
<circle cx="102.3" cy="197.8" r="0.85" fill="#111"/>
<circle cx="28.2" cy="198.0" r="0.85" fill="#111"/>
<circle cx="63.1" cy="202.1" r="0.85" fill="#111"/>
<circle cx="52.5" cy="201.7" r="0.85" fill="#111"/>
<circle cx="48.4" cy="201.9" r="0.85" fill="#111"/>
<circle cx="81.0" cy="200.5" r="0.85" fill="#111"/>
<circle cx="63.6" cy="201.5" r="0.85" fill="#111"/>
<line x1="26.0" y1="209.50" x2="142.3" y2="209.50" stroke="#2a2a2a" stroke-width="1.0"/>
<circle cx="26.0" cy="209.43" r="1.0" fill="#111"/>
<circle cx="142.3" cy="209.75" r="1.0" fill="#111"/>
<rect x="30.8" y="205.53" width="51.0" height="7.0" fill="#cc0a2c"/>
<line x1="50.0" y1="205.53" x2="50.0" y2="212.53" stroke="#111" stroke-width="1.2"/>
<circle cx="67.8" cy="209.5" r="0.85" fill="#111"/>
<circle cx="41.6" cy="209.8" r="0.85" fill="#111"/>
<circle cx="77.3" cy="206.9" r="0.85" fill="#111"/>
<circle cx="36.2" cy="211.6" r="0.85" fill="#111"/>
<circle cx="38.0" cy="206.2" r="0.85" fill="#111"/>
<circle cx="66.1" cy="209.8" r="0.85" fill="#111"/>
<circle cx="111.7" cy="206.4" r="0.85" fill="#111"/>
<circle cx="49.3" cy="210.9" r="0.85" fill="#111"/>
<circle cx="129.7" cy="206.4" r="0.85" fill="#111"/>
<circle cx="132.3" cy="211.7" r="0.85" fill="#111"/>
<circle cx="41.3" cy="206.7" r="0.85" fill="#111"/>
<circle cx="74.0" cy="210.9" r="0.85" fill="#111"/>
<circle cx="122.0" cy="209.8" r="0.85" fill="#111"/>
<circle cx="35.9" cy="206.6" r="0.85" fill="#111"/>
<circle cx="49.8" cy="207.9" r="0.85" fill="#111"/>
<circle cx="31.9" cy="207.6" r="0.85" fill="#111"/>
<circle cx="67.3" cy="208.2" r="0.85" fill="#111"/>
<circle cx="80.0" cy="209.1" r="0.85" fill="#111"/>
<circle cx="97.9" cy="206.2" r="0.85" fill="#111"/>
<circle cx="53.1" cy="210.7" r="0.85" fill="#111"/>
<line x1="26.0" y1="218.50" x2="117.4" y2="218.50" stroke="#2a2a2a" stroke-width="1.0"/>
<circle cx="26.0" cy="218.29" r="1.0" fill="#111"/>
<circle cx="117.4" cy="219.01" r="1.0" fill="#111"/>
<rect x="34.2" y="215.10" width="41.2" height="7.0" fill="#cc0a2c"/>
<line x1="48.0" y1="215.10" x2="48.0" y2="222.10" stroke="#111" stroke-width="1.2"/>
<circle cx="43.1" cy="220.8" r="0.85" fill="#111"/>
<circle cx="68.0" cy="216.6" r="0.85" fill="#111"/>
<circle cx="42.5" cy="220.2" r="0.85" fill="#111"/>
<circle cx="26.4" cy="218.5" r="0.85" fill="#111"/>
<circle cx="67.0" cy="216.7" r="0.85" fill="#111"/>
<circle cx="48.5" cy="220.6" r="0.85" fill="#111"/>
<circle cx="73.1" cy="217.3" r="0.85" fill="#111"/>
<circle cx="63.0" cy="218.6" r="0.85" fill="#111"/>
<circle cx="60.4" cy="216.1" r="0.85" fill="#111"/>
<circle cx="89.7" cy="220.3" r="0.85" fill="#111"/>
<circle cx="58.5" cy="218.0" r="0.85" fill="#111"/>
<circle cx="70.9" cy="216.1" r="0.85" fill="#111"/>
<circle cx="28.3" cy="216.8" r="0.85" fill="#111"/>
<circle cx="71.3" cy="218.6" r="0.85" fill="#111"/>
<circle cx="70.6" cy="217.0" r="0.85" fill="#111"/>
<circle cx="56.1" cy="220.1" r="0.85" fill="#111"/>
<circle cx="85.1" cy="217.7" r="0.85" fill="#111"/>
<circle cx="40.6" cy="220.7" r="0.85" fill="#111"/>
<circle cx="93.8" cy="216.6" r="0.85" fill="#111"/>
<circle cx="165.0" cy="218.4" r="0.9" fill="#111"/>
<line x1="28.5" y1="228.50" x2="68.5" y2="228.50" stroke="#2a2a2a" stroke-width="1.0"/>
<circle cx="28.5" cy="228.72" r="1.0" fill="#111"/>
<circle cx="68.5" cy="228.33" r="1.0" fill="#111"/>
<rect x="39.2" y="224.67" width="17.0" height="7.0" fill="#cc0a2c"/>
<line x1="47.0" y1="224.67" x2="47.0" y2="231.67" stroke="#111" stroke-width="1.2"/>
<circle cx="47.1" cy="230.5" r="0.85" fill="#111"/>
<circle cx="42.5" cy="227.0" r="0.85" fill="#111"/>
<circle cx="62.2" cy="226.1" r="0.85" fill="#111"/>
<circle cx="43.4" cy="227.1" r="0.85" fill="#111"/>
<circle cx="41.9" cy="227.1" r="0.85" fill="#111"/>
<circle cx="55.8" cy="229.5" r="0.85" fill="#111"/>
<circle cx="55.6" cy="225.8" r="0.85" fill="#111"/>
<circle cx="55.9" cy="229.9" r="0.85" fill="#111"/>
<circle cx="45.9" cy="226.3" r="0.85" fill="#111"/>
<circle cx="32.8" cy="226.4" r="0.85" fill="#111"/>
<circle cx="39.8" cy="227.6" r="0.85" fill="#111"/>
<circle cx="56.2" cy="228.2" r="0.85" fill="#111"/>
<circle cx="47.0" cy="226.0" r="0.85" fill="#111"/>
<circle cx="44.7" cy="229.6" r="0.85" fill="#111"/>
<circle cx="45.7" cy="228.6" r="0.85" fill="#111"/>
<circle cx="45.3" cy="226.5" r="0.85" fill="#111"/>
<circle cx="63.7" cy="229.8" r="0.85" fill="#111"/>
<circle cx="97.7" cy="229.0" r="0.9" fill="#111"/>
<circle cx="102.0" cy="229.6" r="0.9" fill="#111"/>
<circle cx="117.7" cy="228.9" r="0.9" fill="#111"/>
<line x1="28.0" y1="237.50" x2="70.5" y2="237.50" stroke="#2a2a2a" stroke-width="1.0"/>
<circle cx="28.0" cy="238.02" r="1.0" fill="#111"/>
<circle cx="70.5" cy="237.65" r="1.0" fill="#111"/>
<rect x="32.0" y="234.24" width="16.5" height="7.0" fill="#cc0a2c"/>
<line x1="38.0" y1="234.24" x2="38.0" y2="241.24" stroke="#111" stroke-width="1.2"/>
<circle cx="42.4" cy="235.3" r="0.85" fill="#111"/>
<circle cx="44.9" cy="239.0" r="0.85" fill="#111"/>
<circle cx="38.6" cy="237.3" r="0.85" fill="#111"/>
<circle cx="42.3" cy="237.2" r="0.85" fill="#111"/>
<circle cx="67.5" cy="235.8" r="0.85" fill="#111"/>
<circle cx="61.1" cy="237.1" r="0.85" fill="#111"/>
<circle cx="48.1" cy="235.0" r="0.85" fill="#111"/>
<circle cx="34.7" cy="239.4" r="0.85" fill="#111"/>
<circle cx="50.1" cy="235.3" r="0.85" fill="#111"/>
<circle cx="40.9" cy="239.0" r="0.85" fill="#111"/>
<circle cx="42.5" cy="239.7" r="0.85" fill="#111"/>
<circle cx="38.8" cy="240.4" r="0.85" fill="#111"/>
<circle cx="43.3" cy="237.1" r="0.85" fill="#111"/>
<circle cx="33.2" cy="240.6" r="0.85" fill="#111"/>
<circle cx="32.9" cy="236.4" r="0.85" fill="#111"/>
<circle cx="32.2" cy="237.3" r="0.85" fill="#111"/>
<circle cx="43.5" cy="236.9" r="0.85" fill="#111"/>
<circle cx="35.7" cy="239.2" r="0.85" fill="#111"/>
<circle cx="50.4" cy="236.1" r="0.85" fill="#111"/>
<circle cx="44.7" cy="236.0" r="0.85" fill="#111"/>
<line x1="28.0" y1="247.50" x2="57.0" y2="247.50" stroke="#2a2a2a" stroke-width="1.0"/>
<circle cx="28.0" cy="246.57" r="1.0" fill="#111"/>
<circle cx="57.0" cy="247.86" r="1.0" fill="#111"/>
<rect x="31.5" y="243.81" width="13.1" height="7.0" fill="#cc0a2c"/>
<line x1="37.0" y1="243.81" x2="37.0" y2="250.81" stroke="#111" stroke-width="1.2"/>
<circle cx="46.4" cy="247.1" r="0.85" fill="#111"/>
<circle cx="34.5" cy="250.1" r="0.85" fill="#111"/>
<circle cx="39.9" cy="249.2" r="0.85" fill="#111"/>
<circle cx="41.6" cy="246.1" r="0.85" fill="#111"/>
<circle cx="33.1" cy="249.3" r="0.85" fill="#111"/>
<circle cx="42.6" cy="245.9" r="0.85" fill="#111"/>
<circle cx="34.8" cy="246.9" r="0.85" fill="#111"/>
<circle cx="31.5" cy="248.6" r="0.85" fill="#111"/>
<circle cx="34.7" cy="246.1" r="0.85" fill="#111"/>
<circle cx="37.1" cy="248.1" r="0.85" fill="#111"/>
<circle cx="38.5" cy="249.9" r="0.85" fill="#111"/>
<circle cx="29.7" cy="249.3" r="0.85" fill="#111"/>
<circle cx="50.7" cy="245.2" r="0.85" fill="#111"/>
<circle cx="46.4" cy="244.4" r="0.85" fill="#111"/>
<circle cx="44.0" cy="248.2" r="0.85" fill="#111"/>
<circle cx="32.8" cy="245.2" r="0.85" fill="#111"/>
<circle cx="41.7" cy="246.4" r="0.85" fill="#111"/>
<circle cx="43.3" cy="249.1" r="0.85" fill="#111"/>
<circle cx="43.2" cy="248.0" r="0.85" fill="#111"/>
<circle cx="47.4" cy="249.7" r="0.85" fill="#111"/>
<line x1="26.5" y1="256.50" x2="66.0" y2="256.50" stroke="#2a2a2a" stroke-width="1.0"/>
<circle cx="26.5" cy="257.46" r="1.0" fill="#111"/>
<circle cx="66.0" cy="257.56" r="1.0" fill="#111"/>
<rect x="30.8" y="253.38" width="19.2" height="7.0" fill="#cc0a2c"/>
<line x1="37.0" y1="253.38" x2="37.0" y2="260.38" stroke="#111" stroke-width="1.2"/>
<circle cx="44.1" cy="257.1" r="0.85" fill="#111"/>
<circle cx="43.8" cy="259.2" r="0.85" fill="#111"/>
<circle cx="35.9" cy="255.3" r="0.85" fill="#111"/>
<circle cx="40.3" cy="254.2" r="0.85" fill="#111"/>
<circle cx="33.6" cy="256.8" r="0.85" fill="#111"/>
<circle cx="41.2" cy="259.1" r="0.85" fill="#111"/>
<circle cx="46.9" cy="256.7" r="0.85" fill="#111"/>
<circle cx="43.6" cy="258.9" r="0.85" fill="#111"/>
<circle cx="38.8" cy="259.6" r="0.85" fill="#111"/>
<circle cx="43.0" cy="257.7" r="0.85" fill="#111"/>
<circle cx="42.5" cy="258.0" r="0.85" fill="#111"/>
<circle cx="39.6" cy="259.8" r="0.85" fill="#111"/>
<circle cx="40.1" cy="259.3" r="0.85" fill="#111"/>
<circle cx="44.6" cy="257.6" r="0.85" fill="#111"/>
<circle cx="47.3" cy="256.1" r="0.85" fill="#111"/>
<circle cx="40.9" cy="258.5" r="0.85" fill="#111"/>
<circle cx="77.7" cy="255.7" r="0.9" fill="#111"/>
<circle cx="85.4" cy="256.6" r="0.9" fill="#111"/>
<circle cx="90.8" cy="256.6" r="0.9" fill="#111"/>
<circle cx="99.0" cy="257.1" r="0.9" fill="#111"/>
<line x1="28.0" y1="266.50" x2="48.5" y2="266.50" stroke="#2a2a2a" stroke-width="1.0"/>
<circle cx="28.0" cy="267.10" r="1.0" fill="#111"/>
<circle cx="48.5" cy="266.04" r="1.0" fill="#111"/>
<rect x="29.2" y="262.95" width="9.3" height="7.0" fill="#cc0a2c"/>
<line x1="33.0" y1="262.95" x2="33.0" y2="269.95" stroke="#111" stroke-width="1.2"/>
<circle cx="36.3" cy="266.5" r="0.85" fill="#111"/>
<circle cx="33.9" cy="269.3" r="0.85" fill="#111"/>
<circle cx="44.2" cy="265.4" r="0.85" fill="#111"/>
<circle cx="32.0" cy="267.0" r="0.85" fill="#111"/>
<circle cx="44.1" cy="263.7" r="0.85" fill="#111"/>
<circle cx="46.2" cy="266.7" r="0.85" fill="#111"/>
<circle cx="32.0" cy="263.5" r="0.85" fill="#111"/>
<circle cx="37.8" cy="267.1" r="0.85" fill="#111"/>
<circle cx="44.2" cy="268.9" r="0.85" fill="#111"/>
<circle cx="40.6" cy="267.2" r="0.85" fill="#111"/>
<circle cx="40.2" cy="267.5" r="0.85" fill="#111"/>
<circle cx="35.4" cy="266.2" r="0.85" fill="#111"/>
<circle cx="30.1" cy="264.5" r="0.85" fill="#111"/>
<circle cx="36.4" cy="268.9" r="0.85" fill="#111"/>
<circle cx="35.6" cy="268.4" r="0.85" fill="#111"/>
<circle cx="39.5" cy="265.0" r="0.85" fill="#111"/>
<circle cx="33.1" cy="265.4" r="0.85" fill="#111"/>
<circle cx="35.2" cy="269.1" r="0.85" fill="#111"/>
<circle cx="53.0" cy="264.7" r="0.9" fill="#111"/>
<circle cx="57.7" cy="266.7" r="0.9" fill="#111"/>
<line x1="27.0" y1="276.50" x2="46.0" y2="276.50" stroke="#2a2a2a" stroke-width="1.0"/>
<circle cx="27.0" cy="275.10" r="1.0" fill="#111"/>
<circle cx="46.0" cy="275.26" r="1.0" fill="#111"/>
<rect x="27.0" y="272.52" width="19.0" height="7.0" fill="#cc0a2c"/>
<line x1="34.0" y1="272.52" x2="34.0" y2="279.52" stroke="#111" stroke-width="1.2"/>
<circle cx="37.9" cy="278.5" r="0.85" fill="#111"/>
<circle cx="27.3" cy="275.3" r="0.85" fill="#111"/>
<circle cx="44.8" cy="278.9" r="0.85" fill="#111"/>
<circle cx="34.8" cy="273.6" r="0.85" fill="#111"/>
<circle cx="31.0" cy="273.9" r="0.85" fill="#111"/>
<circle cx="27.1" cy="277.1" r="0.85" fill="#111"/>
<circle cx="45.4" cy="273.5" r="0.85" fill="#111"/>
<circle cx="29.5" cy="273.1" r="0.85" fill="#111"/>
<circle cx="31.6" cy="277.4" r="0.85" fill="#111"/>
<circle cx="28.0" cy="277.7" r="0.85" fill="#111"/>
<circle cx="43.3" cy="277.4" r="0.85" fill="#111"/>
<circle cx="38.9" cy="277.3" r="0.85" fill="#111"/>
<circle cx="44.7" cy="274.5" r="0.85" fill="#111"/>
<circle cx="40.6" cy="273.1" r="0.85" fill="#111"/>
<circle cx="39.4" cy="277.9" r="0.85" fill="#111"/>
<circle cx="32.9" cy="277.4" r="0.85" fill="#111"/>
<circle cx="82.3" cy="274.7" r="0.9" fill="#111"/>
<circle cx="93.8" cy="277.5" r="0.9" fill="#111"/>
<circle cx="99.0" cy="276.0" r="0.9" fill="#111"/>
<circle cx="145.4" cy="274.3" r="0.9" fill="#111"/>
<line x1="27.0" y1="285.50" x2="50.0" y2="285.50" stroke="#2a2a2a" stroke-width="1.0"/>
<circle cx="27.0" cy="285.33" r="1.0" fill="#111"/>
<circle cx="50.0" cy="285.74" r="1.0" fill="#111"/>
<rect x="27.4" y="282.09" width="13.4" height="7.0" fill="#cc0a2c"/>
<line x1="33.0" y1="282.09" x2="33.0" y2="289.09" stroke="#111" stroke-width="1.2"/>
<circle cx="36.5" cy="283.5" r="0.85" fill="#111"/>
<circle cx="35.4" cy="286.5" r="0.85" fill="#111"/>
<circle cx="36.6" cy="284.9" r="0.85" fill="#111"/>
<circle cx="48.7" cy="287.3" r="0.85" fill="#111"/>
<circle cx="31.3" cy="283.0" r="0.85" fill="#111"/>
<circle cx="43.2" cy="287.6" r="0.85" fill="#111"/>
<circle cx="35.5" cy="288.5" r="0.85" fill="#111"/>
<circle cx="40.8" cy="284.4" r="0.85" fill="#111"/>
<circle cx="39.3" cy="284.9" r="0.85" fill="#111"/>
<circle cx="40.8" cy="288.0" r="0.85" fill="#111"/>
<circle cx="33.5" cy="282.6" r="0.85" fill="#111"/>
<circle cx="33.1" cy="286.1" r="0.85" fill="#111"/>
<circle cx="47.4" cy="282.8" r="0.85" fill="#111"/>
<circle cx="45.7" cy="287.8" r="0.85" fill="#111"/>
<circle cx="31.1" cy="287.7" r="0.85" fill="#111"/>
<circle cx="42.7" cy="288.1" r="0.85" fill="#111"/>
<circle cx="64.6" cy="285.0" r="0.9" fill="#111"/>
<circle cx="69.0" cy="283.9" r="0.9" fill="#111"/>
<circle cx="86.5" cy="285.8" r="0.9" fill="#111"/>
<circle cx="91.0" cy="286.8" r="0.9" fill="#111"/>
<line x1="343.0" y1="27.50" x2="418.2" y2="27.50" stroke="#2a2a2a" stroke-width="1.0"/>
<circle cx="343.0" cy="26.60" r="1.0" fill="#111"/>
<circle cx="418.2" cy="27.70" r="1.0" fill="#111"/>
<rect x="366.2" y="23.70" width="26.1" height="7.0" fill="#3aa6dd"/>
<line x1="379.2" y1="23.70" x2="379.2" y2="30.70" stroke="#111" stroke-width="1.2"/>
<circle cx="360.6" cy="27.8" r="0.85" fill="#111"/>
<circle cx="378.0" cy="25.4" r="0.85" fill="#111"/>
<circle cx="385.8" cy="28.9" r="0.85" fill="#111"/>
<circle cx="368.5" cy="29.0" r="0.85" fill="#111"/>
<circle cx="360.5" cy="27.7" r="0.85" fill="#111"/>
<circle cx="409.6" cy="27.3" r="0.85" fill="#111"/>
<circle cx="381.6" cy="25.3" r="0.85" fill="#111"/>
<circle cx="370.9" cy="28.4" r="0.85" fill="#111"/>
<circle cx="380.9" cy="26.6" r="0.85" fill="#111"/>
<circle cx="370.1" cy="24.5" r="0.85" fill="#111"/>
<circle cx="371.1" cy="24.8" r="0.85" fill="#111"/>
<circle cx="402.2" cy="25.1" r="0.85" fill="#111"/>
<circle cx="375.2" cy="27.3" r="0.85" fill="#111"/>
<circle cx="367.1" cy="30.1" r="0.85" fill="#111"/>
<circle cx="379.6" cy="27.6" r="0.85" fill="#111"/>
<circle cx="386.5" cy="26.8" r="0.85" fill="#111"/>
<circle cx="400.7" cy="29.1" r="0.85" fill="#111"/>
<circle cx="362.1" cy="24.4" r="0.85" fill="#111"/>
<circle cx="370.9" cy="24.7" r="0.85" fill="#111"/>
<circle cx="380.7" cy="29.4" r="0.85" fill="#111"/>
<line x1="327.0" y1="36.50" x2="388.0" y2="36.50" stroke="#2a2a2a" stroke-width="1.0"/>
<circle cx="327.0" cy="36.69" r="1.0" fill="#111"/>
<circle cx="388.0" cy="37.66" r="1.0" fill="#111"/>
<rect x="352.0" y="33.27" width="19.0" height="7.0" fill="#cc0a2c"/>
<line x1="361.5" y1="33.27" x2="361.5" y2="40.27" stroke="#111" stroke-width="1.2"/>
<circle cx="330.9" cy="37.4" r="0.85" fill="#111"/>
<circle cx="354.3" cy="39.5" r="0.85" fill="#111"/>
<circle cx="362.7" cy="37.6" r="0.85" fill="#111"/>
<circle cx="367.9" cy="36.1" r="0.85" fill="#111"/>
<circle cx="355.0" cy="39.6" r="0.85" fill="#111"/>
<circle cx="340.5" cy="34.0" r="0.85" fill="#111"/>
<circle cx="358.7" cy="39.2" r="0.85" fill="#111"/>
<circle cx="378.1" cy="34.1" r="0.85" fill="#111"/>
<circle cx="370.3" cy="37.7" r="0.85" fill="#111"/>
<circle cx="330.4" cy="34.6" r="0.85" fill="#111"/>
<circle cx="384.3" cy="37.8" r="0.85" fill="#111"/>
<circle cx="363.2" cy="38.3" r="0.85" fill="#111"/>
<circle cx="358.2" cy="35.3" r="0.85" fill="#111"/>
<circle cx="361.1" cy="34.8" r="0.85" fill="#111"/>
<circle cx="354.7" cy="37.8" r="0.85" fill="#111"/>
<circle cx="365.6" cy="34.9" r="0.85" fill="#111"/>
<circle cx="369.6" cy="35.1" r="0.85" fill="#111"/>
<circle cx="379.9" cy="39.1" r="0.85" fill="#111"/>
<circle cx="360.5" cy="34.4" r="0.85" fill="#111"/>
<circle cx="378.4" cy="37.5" r="0.85" fill="#111"/>
<line x1="331.5" y1="46.50" x2="404.6" y2="46.50" stroke="#2a2a2a" stroke-width="1.0"/>
<circle cx="331.5" cy="46.24" r="1.0" fill="#111"/>
<circle cx="404.6" cy="46.02" r="1.0" fill="#111"/>
<rect x="347.0" y="42.84" width="25.0" height="7.0" fill="#cc0a2c"/>
<line x1="359.5" y1="42.84" x2="359.5" y2="49.84" stroke="#111" stroke-width="1.2"/>
<circle cx="366.4" cy="47.1" r="0.85" fill="#111"/>
<circle cx="352.5" cy="43.7" r="0.85" fill="#111"/>
<circle cx="372.0" cy="44.2" r="0.85" fill="#111"/>
<circle cx="351.0" cy="45.8" r="0.85" fill="#111"/>
<circle cx="353.8" cy="48.4" r="0.85" fill="#111"/>
<circle cx="351.2" cy="46.3" r="0.85" fill="#111"/>
<circle cx="369.6" cy="44.0" r="0.85" fill="#111"/>
<circle cx="335.7" cy="48.7" r="0.85" fill="#111"/>
<circle cx="346.9" cy="46.2" r="0.85" fill="#111"/>
<circle cx="353.4" cy="44.5" r="0.85" fill="#111"/>
<circle cx="371.8" cy="49.3" r="0.85" fill="#111"/>
<circle cx="338.6" cy="45.1" r="0.85" fill="#111"/>
<circle cx="335.7" cy="47.7" r="0.85" fill="#111"/>
<circle cx="371.5" cy="43.4" r="0.85" fill="#111"/>
<circle cx="356.4" cy="44.2" r="0.85" fill="#111"/>
<circle cx="367.8" cy="46.5" r="0.85" fill="#111"/>
<circle cx="357.9" cy="48.8" r="0.85" fill="#111"/>
<circle cx="361.3" cy="44.2" r="0.85" fill="#111"/>
<circle cx="366.3" cy="47.6" r="0.85" fill="#111"/>
<circle cx="349.0" cy="43.9" r="0.85" fill="#111"/>
<line x1="337.0" y1="55.50" x2="391.5" y2="55.50" stroke="#2a2a2a" stroke-width="1.0"/>
<circle cx="337.0" cy="56.13" r="1.0" fill="#111"/>
<circle cx="391.5" cy="55.90" r="1.0" fill="#111"/>
<rect x="349.0" y="52.41" width="17.5" height="7.0" fill="#3aa6dd"/>
<line x1="357.8" y1="52.41" x2="357.8" y2="59.41" stroke="#111" stroke-width="1.2"/>
<circle cx="352.6" cy="56.6" r="0.85" fill="#111"/>
<circle cx="381.2" cy="56.4" r="0.85" fill="#111"/>
<circle cx="350.1" cy="57.3" r="0.85" fill="#111"/>
<circle cx="361.6" cy="53.2" r="0.85" fill="#111"/>
<circle cx="355.3" cy="58.0" r="0.85" fill="#111"/>
<circle cx="363.9" cy="53.0" r="0.85" fill="#111"/>
<circle cx="363.0" cy="58.1" r="0.85" fill="#111"/>
<circle cx="352.3" cy="57.9" r="0.85" fill="#111"/>
<circle cx="351.9" cy="55.1" r="0.85" fill="#111"/>
<circle cx="349.1" cy="56.0" r="0.85" fill="#111"/>
<circle cx="358.0" cy="53.6" r="0.85" fill="#111"/>
<circle cx="381.5" cy="58.1" r="0.85" fill="#111"/>
<circle cx="361.4" cy="55.2" r="0.85" fill="#111"/>
<circle cx="340.3" cy="58.1" r="0.85" fill="#111"/>
<circle cx="364.0" cy="56.0" r="0.85" fill="#111"/>
<circle cx="358.4" cy="53.0" r="0.85" fill="#111"/>
<circle cx="349.2" cy="54.0" r="0.85" fill="#111"/>
<circle cx="353.4" cy="57.8" r="0.85" fill="#111"/>
<circle cx="350.7" cy="57.1" r="0.85" fill="#111"/>
<circle cx="396.6" cy="54.7" r="0.9" fill="#111"/>
<line x1="331.5" y1="65.50" x2="385.8" y2="65.50" stroke="#2a2a2a" stroke-width="1.0"/>
<circle cx="331.5" cy="64.52" r="1.0" fill="#111"/>
<circle cx="385.8" cy="65.68" r="1.0" fill="#111"/>
<rect x="353.0" y="61.98" width="14.4" height="7.0" fill="#cc0a2c"/>
<line x1="360.2" y1="61.98" x2="360.2" y2="68.98" stroke="#111" stroke-width="1.2"/>
<circle cx="360.5" cy="66.7" r="0.85" fill="#111"/>
<circle cx="365.5" cy="66.8" r="0.85" fill="#111"/>
<circle cx="354.8" cy="65.4" r="0.85" fill="#111"/>
<circle cx="357.0" cy="63.2" r="0.85" fill="#111"/>
<circle cx="355.0" cy="66.0" r="0.85" fill="#111"/>
<circle cx="339.5" cy="65.9" r="0.85" fill="#111"/>
<circle cx="340.4" cy="67.4" r="0.85" fill="#111"/>
<circle cx="352.6" cy="65.0" r="0.85" fill="#111"/>
<circle cx="360.0" cy="64.9" r="0.85" fill="#111"/>
<circle cx="373.7" cy="64.5" r="0.85" fill="#111"/>
<circle cx="357.8" cy="65.1" r="0.85" fill="#111"/>
<circle cx="375.2" cy="68.0" r="0.85" fill="#111"/>
<circle cx="377.5" cy="62.8" r="0.85" fill="#111"/>
<circle cx="366.8" cy="68.1" r="0.85" fill="#111"/>
<circle cx="359.1" cy="66.3" r="0.85" fill="#111"/>
<circle cx="360.6" cy="62.9" r="0.85" fill="#111"/>
<circle cx="360.3" cy="62.6" r="0.85" fill="#111"/>
<circle cx="367.0" cy="67.1" r="0.85" fill="#111"/>
<circle cx="365.9" cy="67.3" r="0.85" fill="#111"/>
<circle cx="411.5" cy="67.0" r="0.9" fill="#111"/>
<line x1="339.0" y1="75.50" x2="382.8" y2="75.50" stroke="#2a2a2a" stroke-width="1.0"/>
<circle cx="339.0" cy="75.82" r="1.0" fill="#111"/>
<circle cx="382.8" cy="74.12" r="1.0" fill="#111"/>
<rect x="351.5" y="71.55" width="20.5" height="7.0" fill="#cc0a2c"/>
<line x1="361.8" y1="71.55" x2="361.8" y2="78.55" stroke="#111" stroke-width="1.2"/>
<circle cx="350.6" cy="76.1" r="0.85" fill="#111"/>
<circle cx="362.6" cy="77.6" r="0.85" fill="#111"/>
<circle cx="350.0" cy="75.2" r="0.85" fill="#111"/>
<circle cx="371.0" cy="73.8" r="0.85" fill="#111"/>
<circle cx="364.8" cy="72.8" r="0.85" fill="#111"/>
<circle cx="371.1" cy="75.1" r="0.85" fill="#111"/>
<circle cx="361.1" cy="75.3" r="0.85" fill="#111"/>
<circle cx="354.0" cy="72.8" r="0.85" fill="#111"/>
<circle cx="359.8" cy="73.8" r="0.85" fill="#111"/>
<circle cx="353.3" cy="75.3" r="0.85" fill="#111"/>
<circle cx="365.7" cy="75.5" r="0.85" fill="#111"/>
<circle cx="347.8" cy="76.3" r="0.85" fill="#111"/>
<circle cx="362.7" cy="75.7" r="0.85" fill="#111"/>
<circle cx="357.9" cy="73.5" r="0.85" fill="#111"/>
<circle cx="362.0" cy="74.3" r="0.85" fill="#111"/>
<circle cx="351.7" cy="74.2" r="0.85" fill="#111"/>
<circle cx="349.4" cy="75.4" r="0.85" fill="#111"/>
<circle cx="357.3" cy="78.0" r="0.85" fill="#111"/>
<circle cx="367.3" cy="73.0" r="0.85" fill="#111"/>
<circle cx="369.4" cy="74.7" r="0.85" fill="#111"/>
<line x1="323.0" y1="84.50" x2="380.8" y2="84.50" stroke="#2a2a2a" stroke-width="1.0"/>
<circle cx="323.0" cy="83.74" r="1.0" fill="#111"/>
<circle cx="380.8" cy="84.40" r="1.0" fill="#111"/>
<rect x="343.8" y="81.12" width="23.9" height="7.0" fill="#cc0a2c"/>
<line x1="355.8" y1="81.12" x2="355.8" y2="88.12" stroke="#111" stroke-width="1.2"/>
<circle cx="361.4" cy="82.3" r="0.85" fill="#111"/>
<circle cx="366.7" cy="86.1" r="0.85" fill="#111"/>
<circle cx="351.9" cy="83.7" r="0.85" fill="#111"/>
<circle cx="358.6" cy="86.7" r="0.85" fill="#111"/>
<circle cx="352.9" cy="86.1" r="0.85" fill="#111"/>
<circle cx="366.9" cy="84.5" r="0.85" fill="#111"/>
<circle cx="364.0" cy="87.1" r="0.85" fill="#111"/>
<circle cx="364.6" cy="81.6" r="0.85" fill="#111"/>
<circle cx="356.9" cy="84.6" r="0.85" fill="#111"/>
<circle cx="356.1" cy="84.1" r="0.85" fill="#111"/>
<circle cx="373.4" cy="85.3" r="0.85" fill="#111"/>
<circle cx="354.6" cy="84.4" r="0.85" fill="#111"/>
<circle cx="339.9" cy="84.0" r="0.85" fill="#111"/>
<circle cx="353.0" cy="83.6" r="0.85" fill="#111"/>
<circle cx="372.1" cy="84.6" r="0.85" fill="#111"/>
<circle cx="348.2" cy="83.4" r="0.85" fill="#111"/>
<circle cx="357.6" cy="85.1" r="0.85" fill="#111"/>
<circle cx="365.8" cy="83.6" r="0.85" fill="#111"/>
<circle cx="371.4" cy="87.4" r="0.85" fill="#111"/>
<circle cx="354.0" cy="87.1" r="0.85" fill="#111"/>
<line x1="342.3" y1="94.50" x2="366.0" y2="94.50" stroke="#2a2a2a" stroke-width="1.0"/>
<circle cx="342.3" cy="93.21" r="1.0" fill="#111"/>
<circle cx="366.0" cy="93.28" r="1.0" fill="#111"/>
<rect x="349.5" y="90.69" width="12.8" height="7.0" fill="#cc0a2c"/>
<line x1="355.9" y1="90.69" x2="355.9" y2="97.69" stroke="#111" stroke-width="1.2"/>
<circle cx="355.9" cy="96.7" r="0.85" fill="#111"/>
<circle cx="355.1" cy="97.2" r="0.85" fill="#111"/>
<circle cx="356.1" cy="95.3" r="0.85" fill="#111"/>
<circle cx="354.1" cy="94.8" r="0.85" fill="#111"/>
<circle cx="361.6" cy="95.2" r="0.85" fill="#111"/>
<circle cx="350.8" cy="93.4" r="0.85" fill="#111"/>
<circle cx="356.7" cy="94.6" r="0.85" fill="#111"/>
<circle cx="365.2" cy="94.1" r="0.85" fill="#111"/>
<circle cx="357.5" cy="97.2" r="0.85" fill="#111"/>
<circle cx="356.3" cy="96.1" r="0.85" fill="#111"/>
<circle cx="353.6" cy="97.1" r="0.85" fill="#111"/>
<circle cx="354.4" cy="91.9" r="0.85" fill="#111"/>
<circle cx="358.7" cy="96.1" r="0.85" fill="#111"/>
<circle cx="363.3" cy="93.7" r="0.85" fill="#111"/>
<circle cx="353.2" cy="94.3" r="0.85" fill="#111"/>
<circle cx="351.9" cy="92.3" r="0.85" fill="#111"/>
<circle cx="356.6" cy="93.3" r="0.85" fill="#111"/>
<circle cx="306.5" cy="96.2" r="0.9" fill="#111"/>
<circle cx="326.5" cy="94.7" r="0.9" fill="#111"/>
<circle cx="391.5" cy="92.4" r="0.9" fill="#111"/>
<line x1="340.0" y1="103.50" x2="391.5" y2="103.50" stroke="#2a2a2a" stroke-width="1.0"/>
<circle cx="340.0" cy="103.58" r="1.0" fill="#111"/>
<circle cx="391.5" cy="104.34" r="1.0" fill="#111"/>
<rect x="347.7" y="100.26" width="20.8" height="7.0" fill="#cc0a2c"/>
<line x1="358.1" y1="100.26" x2="358.1" y2="107.26" stroke="#111" stroke-width="1.2"/>
<circle cx="362.1" cy="100.8" r="0.85" fill="#111"/>
<circle cx="365.2" cy="104.3" r="0.85" fill="#111"/>
<circle cx="350.1" cy="103.7" r="0.85" fill="#111"/>
<circle cx="353.2" cy="104.6" r="0.85" fill="#111"/>
<circle cx="368.4" cy="104.2" r="0.85" fill="#111"/>
<circle cx="350.2" cy="101.7" r="0.85" fill="#111"/>
<circle cx="345.5" cy="101.4" r="0.85" fill="#111"/>
<circle cx="358.6" cy="105.7" r="0.85" fill="#111"/>
<circle cx="381.5" cy="101.1" r="0.85" fill="#111"/>
<circle cx="363.7" cy="102.7" r="0.85" fill="#111"/>
<circle cx="358.2" cy="101.8" r="0.85" fill="#111"/>
<circle cx="349.8" cy="106.2" r="0.85" fill="#111"/>
<circle cx="355.0" cy="103.5" r="0.85" fill="#111"/>
<circle cx="348.8" cy="106.1" r="0.85" fill="#111"/>
<circle cx="367.7" cy="103.4" r="0.85" fill="#111"/>
<circle cx="352.8" cy="101.0" r="0.85" fill="#111"/>
<circle cx="384.0" cy="102.6" r="0.85" fill="#111"/>
<circle cx="382.0" cy="102.6" r="0.85" fill="#111"/>
<circle cx="389.4" cy="103.7" r="0.85" fill="#111"/>
<circle cx="352.5" cy="103.1" r="0.85" fill="#111"/>
<line x1="323.0" y1="113.50" x2="406.0" y2="113.50" stroke="#2a2a2a" stroke-width="1.0"/>
<circle cx="323.0" cy="113.77" r="1.0" fill="#111"/>
<circle cx="406.0" cy="112.77" r="1.0" fill="#111"/>
<rect x="344.6" y="109.83" width="25.4" height="7.0" fill="#cc0a2c"/>
<line x1="357.3" y1="109.83" x2="357.3" y2="116.83" stroke="#111" stroke-width="1.2"/>
<circle cx="366.8" cy="113.2" r="0.85" fill="#111"/>
<circle cx="343.2" cy="111.4" r="0.85" fill="#111"/>
<circle cx="349.3" cy="116.2" r="0.85" fill="#111"/>
<circle cx="358.9" cy="111.0" r="0.85" fill="#111"/>
<circle cx="354.4" cy="112.7" r="0.85" fill="#111"/>
<circle cx="347.7" cy="115.3" r="0.85" fill="#111"/>
<circle cx="350.8" cy="111.5" r="0.85" fill="#111"/>
<circle cx="350.6" cy="110.5" r="0.85" fill="#111"/>
<circle cx="351.3" cy="111.3" r="0.85" fill="#111"/>
<circle cx="330.7" cy="111.9" r="0.85" fill="#111"/>
<circle cx="333.6" cy="113.0" r="0.85" fill="#111"/>
<circle cx="389.8" cy="111.3" r="0.85" fill="#111"/>
<circle cx="363.0" cy="112.6" r="0.85" fill="#111"/>
<circle cx="340.3" cy="116.0" r="0.85" fill="#111"/>
<circle cx="350.4" cy="113.0" r="0.85" fill="#111"/>
<circle cx="362.5" cy="111.9" r="0.85" fill="#111"/>
<circle cx="371.8" cy="112.5" r="0.85" fill="#111"/>
<circle cx="360.0" cy="111.6" r="0.85" fill="#111"/>
<circle cx="333.2" cy="113.4" r="0.85" fill="#111"/>
<circle cx="416.0" cy="113.5" r="0.9" fill="#111"/>
<line x1="346.0" y1="122.50" x2="361.8" y2="122.50" stroke="#2a2a2a" stroke-width="1.0"/>
<circle cx="346.0" cy="122.44" r="1.0" fill="#111"/>
<circle cx="361.8" cy="123.44" r="1.0" fill="#111"/>
<rect x="346.0" y="119.40" width="8.5" height="7.0" fill="#3aa6dd"/>
<line x1="350.2" y1="119.40" x2="350.2" y2="126.40" stroke="#111" stroke-width="1.2"/>
<circle cx="351.6" cy="123.3" r="0.85" fill="#111"/>
<circle cx="349.3" cy="120.4" r="0.85" fill="#111"/>
<circle cx="353.2" cy="121.8" r="0.85" fill="#111"/>
<circle cx="347.7" cy="123.3" r="0.85" fill="#111"/>
<circle cx="350.3" cy="121.7" r="0.85" fill="#111"/>
<circle cx="348.6" cy="121.3" r="0.85" fill="#111"/>
<circle cx="352.1" cy="121.6" r="0.85" fill="#111"/>
<circle cx="353.7" cy="124.5" r="0.85" fill="#111"/>
<circle cx="359.6" cy="120.7" r="0.85" fill="#111"/>
<circle cx="346.3" cy="124.0" r="0.85" fill="#111"/>
<circle cx="351.6" cy="122.4" r="0.85" fill="#111"/>
<circle cx="357.0" cy="121.4" r="0.85" fill="#111"/>
<circle cx="351.6" cy="123.7" r="0.85" fill="#111"/>
<circle cx="347.0" cy="125.4" r="0.85" fill="#111"/>
<circle cx="357.3" cy="120.1" r="0.85" fill="#111"/>
<circle cx="347.4" cy="121.1" r="0.85" fill="#111"/>
<circle cx="298.8" cy="122.1" r="0.9" fill="#111"/>
<circle cx="321.8" cy="122.4" r="0.9" fill="#111"/>
<circle cx="334.4" cy="121.1" r="0.9" fill="#111"/>
<circle cx="372.0" cy="122.1" r="0.9" fill="#111"/>
<line x1="329.6" y1="132.50" x2="362.7" y2="132.50" stroke="#2a2a2a" stroke-width="1.0"/>
<circle cx="329.6" cy="132.75" r="1.0" fill="#111"/>
<circle cx="362.7" cy="131.83" r="1.0" fill="#111"/>
<rect x="339.6" y="128.97" width="13.9" height="7.0" fill="#3aa6dd"/>
<line x1="346.6" y1="128.97" x2="346.6" y2="135.97" stroke="#111" stroke-width="1.2"/>
<circle cx="348.5" cy="133.8" r="0.85" fill="#111"/>
<circle cx="345.6" cy="133.6" r="0.85" fill="#111"/>
<circle cx="339.6" cy="134.5" r="0.85" fill="#111"/>
<circle cx="339.1" cy="129.7" r="0.85" fill="#111"/>
<circle cx="349.7" cy="129.8" r="0.85" fill="#111"/>
<circle cx="341.1" cy="134.2" r="0.85" fill="#111"/>
<circle cx="352.3" cy="134.0" r="0.85" fill="#111"/>
<circle cx="349.3" cy="131.8" r="0.85" fill="#111"/>
<circle cx="357.0" cy="131.2" r="0.85" fill="#111"/>
<circle cx="352.8" cy="132.0" r="0.85" fill="#111"/>
<circle cx="352.5" cy="133.9" r="0.85" fill="#111"/>
<circle cx="350.4" cy="132.2" r="0.85" fill="#111"/>
<circle cx="349.3" cy="132.0" r="0.85" fill="#111"/>
<circle cx="352.5" cy="130.2" r="0.85" fill="#111"/>
<circle cx="331.0" cy="133.7" r="0.85" fill="#111"/>
<circle cx="338.2" cy="132.7" r="0.85" fill="#111"/>
<circle cx="350.7" cy="132.7" r="0.85" fill="#111"/>
<circle cx="340.4" cy="131.6" r="0.85" fill="#111"/>
<circle cx="372.0" cy="132.1" r="0.9" fill="#111"/>
<circle cx="374.0" cy="131.3" r="0.9" fill="#111"/>
<line x1="332.7" y1="142.50" x2="362.0" y2="142.50" stroke="#2a2a2a" stroke-width="1.0"/>
<circle cx="332.7" cy="141.66" r="1.0" fill="#111"/>
<circle cx="362.0" cy="141.31" r="1.0" fill="#111"/>
<rect x="343.5" y="138.54" width="12.3" height="7.0" fill="#cc0a2c"/>
<line x1="349.6" y1="138.54" x2="349.6" y2="145.54" stroke="#111" stroke-width="1.2"/>
<circle cx="352.3" cy="140.5" r="0.85" fill="#111"/>
<circle cx="349.8" cy="141.7" r="0.85" fill="#111"/>
<circle cx="343.0" cy="140.8" r="0.85" fill="#111"/>
<circle cx="336.9" cy="142.4" r="0.85" fill="#111"/>
<circle cx="353.5" cy="142.3" r="0.85" fill="#111"/>
<circle cx="337.7" cy="143.0" r="0.85" fill="#111"/>
<circle cx="349.2" cy="143.6" r="0.85" fill="#111"/>
<circle cx="336.1" cy="140.8" r="0.85" fill="#111"/>
<circle cx="346.0" cy="139.4" r="0.85" fill="#111"/>
<circle cx="345.9" cy="143.2" r="0.85" fill="#111"/>
<circle cx="344.9" cy="141.0" r="0.85" fill="#111"/>
<circle cx="348.0" cy="140.0" r="0.85" fill="#111"/>
<circle cx="343.6" cy="145.0" r="0.85" fill="#111"/>
<circle cx="335.2" cy="143.3" r="0.85" fill="#111"/>
<circle cx="349.2" cy="139.7" r="0.85" fill="#111"/>
<circle cx="348.8" cy="140.2" r="0.85" fill="#111"/>
<circle cx="343.6" cy="144.6" r="0.85" fill="#111"/>
<circle cx="328.5" cy="142.6" r="0.9" fill="#111"/>
<circle cx="330.7" cy="142.6" r="0.9" fill="#111"/>
<circle cx="372.7" cy="143.8" r="0.9" fill="#111"/>
<line x1="325.8" y1="151.50" x2="361.0" y2="151.50" stroke="#2a2a2a" stroke-width="1.0"/>
<circle cx="325.8" cy="151.92" r="1.0" fill="#111"/>
<circle cx="361.0" cy="151.11" r="1.0" fill="#111"/>
<rect x="341.0" y="148.11" width="14.0" height="7.0" fill="#cc0a2c"/>
<line x1="348.0" y1="148.11" x2="348.0" y2="155.11" stroke="#111" stroke-width="1.2"/>
<circle cx="342.9" cy="148.8" r="0.85" fill="#111"/>
<circle cx="355.4" cy="150.4" r="0.85" fill="#111"/>
<circle cx="349.9" cy="153.7" r="0.85" fill="#111"/>
<circle cx="331.7" cy="153.3" r="0.85" fill="#111"/>
<circle cx="351.9" cy="150.6" r="0.85" fill="#111"/>
<circle cx="352.6" cy="150.5" r="0.85" fill="#111"/>
<circle cx="348.7" cy="150.8" r="0.85" fill="#111"/>
<circle cx="334.2" cy="148.9" r="0.85" fill="#111"/>
<circle cx="349.8" cy="153.5" r="0.85" fill="#111"/>
<circle cx="357.7" cy="154.3" r="0.85" fill="#111"/>
<circle cx="348.0" cy="149.6" r="0.85" fill="#111"/>
<circle cx="349.1" cy="149.1" r="0.85" fill="#111"/>
<circle cx="331.6" cy="151.3" r="0.85" fill="#111"/>
<circle cx="329.0" cy="148.8" r="0.85" fill="#111"/>
<circle cx="343.7" cy="152.9" r="0.85" fill="#111"/>
<circle cx="352.8" cy="153.7" r="0.85" fill="#111"/>
<circle cx="340.8" cy="150.3" r="0.85" fill="#111"/>
<circle cx="343.9" cy="151.1" r="0.85" fill="#111"/>
<circle cx="347.1" cy="152.6" r="0.85" fill="#111"/>
<circle cx="357.6" cy="149.6" r="0.85" fill="#111"/>
<line x1="330.7" y1="161.50" x2="365.8" y2="161.50" stroke="#2a2a2a" stroke-width="1.0"/>
<circle cx="330.7" cy="160.77" r="1.0" fill="#111"/>
<circle cx="365.8" cy="161.07" r="1.0" fill="#111"/>
<rect x="342.0" y="157.68" width="12.2" height="7.0" fill="#cc0a2c"/>
<line x1="348.1" y1="157.68" x2="348.1" y2="164.68" stroke="#111" stroke-width="1.2"/>
<circle cx="346.2" cy="159.4" r="0.85" fill="#111"/>
<circle cx="345.9" cy="160.9" r="0.85" fill="#111"/>
<circle cx="362.6" cy="163.4" r="0.85" fill="#111"/>
<circle cx="364.5" cy="161.9" r="0.85" fill="#111"/>
<circle cx="332.8" cy="162.2" r="0.85" fill="#111"/>
<circle cx="341.1" cy="161.6" r="0.85" fill="#111"/>
<circle cx="347.6" cy="162.1" r="0.85" fill="#111"/>
<circle cx="346.2" cy="163.5" r="0.85" fill="#111"/>
<circle cx="344.3" cy="162.3" r="0.85" fill="#111"/>
<circle cx="343.0" cy="162.1" r="0.85" fill="#111"/>
<circle cx="349.1" cy="160.7" r="0.85" fill="#111"/>
<circle cx="348.9" cy="160.6" r="0.85" fill="#111"/>
<circle cx="344.2" cy="163.5" r="0.85" fill="#111"/>
<circle cx="343.4" cy="163.4" r="0.85" fill="#111"/>
<circle cx="343.2" cy="161.4" r="0.85" fill="#111"/>
<circle cx="348.0" cy="161.5" r="0.85" fill="#111"/>
<circle cx="349.0" cy="158.9" r="0.85" fill="#111"/>
<circle cx="349.2" cy="158.7" r="0.85" fill="#111"/>
<circle cx="342.9" cy="160.8" r="0.85" fill="#111"/>
<circle cx="350.0" cy="162.5" r="0.85" fill="#111"/>
<line x1="321.0" y1="170.50" x2="374.0" y2="170.50" stroke="#2a2a2a" stroke-width="1.0"/>
<circle cx="321.0" cy="171.26" r="1.0" fill="#111"/>
<circle cx="374.0" cy="169.98" r="1.0" fill="#111"/>
<rect x="338.8" y="167.25" width="19.6" height="7.0" fill="#cc0a2c"/>
<line x1="348.6" y1="167.25" x2="348.6" y2="174.25" stroke="#111" stroke-width="1.2"/>
<circle cx="359.2" cy="168.4" r="0.85" fill="#111"/>
<circle cx="341.8" cy="168.8" r="0.85" fill="#111"/>
<circle cx="350.8" cy="172.4" r="0.85" fill="#111"/>
<circle cx="354.0" cy="168.1" r="0.85" fill="#111"/>
<circle cx="346.1" cy="167.8" r="0.85" fill="#111"/>
<circle cx="343.0" cy="169.5" r="0.85" fill="#111"/>
<circle cx="343.6" cy="173.1" r="0.85" fill="#111"/>
<circle cx="367.2" cy="171.1" r="0.85" fill="#111"/>
<circle cx="367.2" cy="168.8" r="0.85" fill="#111"/>
<circle cx="339.1" cy="172.3" r="0.85" fill="#111"/>
<circle cx="364.8" cy="168.5" r="0.85" fill="#111"/>
<circle cx="353.3" cy="173.4" r="0.85" fill="#111"/>
<circle cx="323.3" cy="171.4" r="0.85" fill="#111"/>
<circle cx="349.6" cy="172.6" r="0.85" fill="#111"/>
<circle cx="356.9" cy="171.8" r="0.85" fill="#111"/>
<circle cx="342.6" cy="170.4" r="0.85" fill="#111"/>
<circle cx="351.8" cy="168.4" r="0.85" fill="#111"/>
<circle cx="341.0" cy="172.6" r="0.85" fill="#111"/>
<circle cx="349.7" cy="169.5" r="0.85" fill="#111"/>
<circle cx="341.2" cy="168.6" r="0.85" fill="#111"/>
<line x1="328.0" y1="180.50" x2="361.0" y2="180.50" stroke="#2a2a2a" stroke-width="1.0"/>
<circle cx="328.0" cy="181.07" r="1.0" fill="#111"/>
<circle cx="361.0" cy="180.40" r="1.0" fill="#111"/>
<rect x="340.8" y="176.82" width="9.9" height="7.0" fill="#cc0a2c"/>
<line x1="345.8" y1="176.82" x2="345.8" y2="183.82" stroke="#111" stroke-width="1.2"/>
<circle cx="354.7" cy="183.0" r="0.85" fill="#111"/>
<circle cx="344.2" cy="178.2" r="0.85" fill="#111"/>
<circle cx="349.4" cy="182.1" r="0.85" fill="#111"/>
<circle cx="342.6" cy="182.2" r="0.85" fill="#111"/>
<circle cx="341.0" cy="180.2" r="0.85" fill="#111"/>
<circle cx="349.2" cy="179.7" r="0.85" fill="#111"/>
<circle cx="348.2" cy="177.8" r="0.85" fill="#111"/>
<circle cx="342.9" cy="182.7" r="0.85" fill="#111"/>
<circle cx="341.2" cy="178.3" r="0.85" fill="#111"/>
<circle cx="345.4" cy="180.8" r="0.85" fill="#111"/>
<circle cx="344.3" cy="177.4" r="0.85" fill="#111"/>
<circle cx="344.1" cy="177.4" r="0.85" fill="#111"/>
<circle cx="350.6" cy="177.6" r="0.85" fill="#111"/>
<circle cx="347.4" cy="179.0" r="0.85" fill="#111"/>
<circle cx="345.8" cy="178.9" r="0.85" fill="#111"/>
<circle cx="346.0" cy="183.1" r="0.85" fill="#111"/>
<circle cx="329.1" cy="180.7" r="0.85" fill="#111"/>
<circle cx="356.8" cy="182.0" r="0.85" fill="#111"/>
<circle cx="348.9" cy="179.5" r="0.85" fill="#111"/>
<circle cx="324.0" cy="179.4" r="0.9" fill="#111"/>
<line x1="324.2" y1="189.50" x2="365.0" y2="189.50" stroke="#2a2a2a" stroke-width="1.0"/>
<circle cx="324.2" cy="190.48" r="1.0" fill="#111"/>
<circle cx="365.0" cy="190.64" r="1.0" fill="#111"/>
<rect x="342.0" y="186.39" width="10.7" height="7.0" fill="#cc0a2c"/>
<line x1="347.4" y1="186.39" x2="347.4" y2="193.39" stroke="#111" stroke-width="1.2"/>
<circle cx="352.0" cy="188.7" r="0.85" fill="#111"/>
<circle cx="354.4" cy="189.9" r="0.85" fill="#111"/>
<circle cx="338.5" cy="190.2" r="0.85" fill="#111"/>
<circle cx="342.6" cy="188.9" r="0.85" fill="#111"/>
<circle cx="352.6" cy="189.8" r="0.85" fill="#111"/>
<circle cx="344.6" cy="188.3" r="0.85" fill="#111"/>
<circle cx="343.5" cy="186.9" r="0.85" fill="#111"/>
<circle cx="342.7" cy="189.6" r="0.85" fill="#111"/>
<circle cx="345.2" cy="187.9" r="0.85" fill="#111"/>
<circle cx="345.2" cy="188.7" r="0.85" fill="#111"/>
<circle cx="346.7" cy="192.5" r="0.85" fill="#111"/>
<circle cx="351.9" cy="190.4" r="0.85" fill="#111"/>
<circle cx="343.9" cy="190.4" r="0.85" fill="#111"/>
<circle cx="338.8" cy="191.5" r="0.85" fill="#111"/>
<circle cx="351.3" cy="187.3" r="0.85" fill="#111"/>
<circle cx="351.6" cy="188.5" r="0.85" fill="#111"/>
<circle cx="342.2" cy="187.9" r="0.85" fill="#111"/>
<circle cx="349.5" cy="188.2" r="0.85" fill="#111"/>
<circle cx="344.1" cy="190.5" r="0.85" fill="#111"/>
<circle cx="318.0" cy="191.3" r="0.9" fill="#111"/>
<line x1="332.0" y1="199.50" x2="362.0" y2="199.50" stroke="#2a2a2a" stroke-width="1.0"/>
<circle cx="332.0" cy="199.76" r="1.0" fill="#111"/>
<circle cx="362.0" cy="198.85" r="1.0" fill="#111"/>
<rect x="338.8" y="195.96" width="10.8" height="7.0" fill="#cc0a2c"/>
<line x1="344.2" y1="195.96" x2="344.2" y2="202.96" stroke="#111" stroke-width="1.2"/>
<circle cx="360.9" cy="200.1" r="0.85" fill="#111"/>
<circle cx="347.5" cy="201.7" r="0.85" fill="#111"/>
<circle cx="340.3" cy="197.6" r="0.85" fill="#111"/>
<circle cx="348.3" cy="200.3" r="0.85" fill="#111"/>
<circle cx="338.4" cy="198.4" r="0.85" fill="#111"/>
<circle cx="351.5" cy="198.9" r="0.85" fill="#111"/>
<circle cx="342.1" cy="196.8" r="0.85" fill="#111"/>
<circle cx="339.3" cy="200.2" r="0.85" fill="#111"/>
<circle cx="344.1" cy="200.0" r="0.85" fill="#111"/>
<circle cx="343.8" cy="196.5" r="0.85" fill="#111"/>
<circle cx="348.9" cy="202.4" r="0.85" fill="#111"/>
<circle cx="345.4" cy="200.8" r="0.85" fill="#111"/>
<circle cx="339.8" cy="197.4" r="0.85" fill="#111"/>
<circle cx="347.1" cy="197.0" r="0.85" fill="#111"/>
<circle cx="344.7" cy="199.7" r="0.85" fill="#111"/>
<circle cx="344.8" cy="200.4" r="0.85" fill="#111"/>
<circle cx="341.9" cy="200.9" r="0.85" fill="#111"/>
<circle cx="346.5" cy="201.0" r="0.85" fill="#111"/>
<circle cx="341.3" cy="201.1" r="0.85" fill="#111"/>
<circle cx="345.6" cy="198.1" r="0.85" fill="#111"/>
<line x1="322.7" y1="209.50" x2="365.8" y2="209.50" stroke="#2a2a2a" stroke-width="1.0"/>
<circle cx="322.7" cy="209.08" r="1.0" fill="#111"/>
<circle cx="365.8" cy="209.91" r="1.0" fill="#111"/>
<rect x="337.3" y="205.53" width="14.7" height="7.0" fill="#cc0a2c"/>
<line x1="344.6" y1="205.53" x2="344.6" y2="212.53" stroke="#111" stroke-width="1.2"/>
<circle cx="337.4" cy="208.9" r="0.85" fill="#111"/>
<circle cx="356.1" cy="208.2" r="0.85" fill="#111"/>
<circle cx="332.5" cy="210.6" r="0.85" fill="#111"/>
<circle cx="337.7" cy="206.8" r="0.85" fill="#111"/>
<circle cx="344.7" cy="209.4" r="0.85" fill="#111"/>
<circle cx="351.1" cy="208.2" r="0.85" fill="#111"/>
<circle cx="339.9" cy="210.5" r="0.85" fill="#111"/>
<circle cx="329.7" cy="206.2" r="0.85" fill="#111"/>
<circle cx="333.2" cy="211.9" r="0.85" fill="#111"/>
<circle cx="346.7" cy="208.1" r="0.85" fill="#111"/>
<circle cx="342.5" cy="208.0" r="0.85" fill="#111"/>
<circle cx="327.3" cy="210.4" r="0.85" fill="#111"/>
<circle cx="346.8" cy="208.4" r="0.85" fill="#111"/>
<circle cx="325.3" cy="209.4" r="0.85" fill="#111"/>
<circle cx="350.8" cy="211.7" r="0.85" fill="#111"/>
<circle cx="332.4" cy="207.5" r="0.85" fill="#111"/>
<circle cx="343.7" cy="207.4" r="0.85" fill="#111"/>
<circle cx="348.5" cy="209.9" r="0.85" fill="#111"/>
<circle cx="351.9" cy="207.3" r="0.85" fill="#111"/>
<circle cx="314.0" cy="209.3" r="0.9" fill="#111"/>
<line x1="333.5" y1="218.50" x2="355.8" y2="218.50" stroke="#2a2a2a" stroke-width="1.0"/>
<circle cx="333.5" cy="217.91" r="1.0" fill="#111"/>
<circle cx="355.8" cy="219.33" r="1.0" fill="#111"/>
<rect x="340.4" y="215.10" width="7.6" height="7.0" fill="#cc0a2c"/>
<line x1="344.2" y1="215.10" x2="344.2" y2="222.10" stroke="#111" stroke-width="1.2"/>
<circle cx="339.5" cy="220.1" r="0.85" fill="#111"/>
<circle cx="339.8" cy="217.6" r="0.85" fill="#111"/>
<circle cx="347.2" cy="216.6" r="0.85" fill="#111"/>
<circle cx="346.8" cy="218.3" r="0.85" fill="#111"/>
<circle cx="347.1" cy="216.9" r="0.85" fill="#111"/>
<circle cx="341.5" cy="220.3" r="0.85" fill="#111"/>
<circle cx="337.6" cy="220.8" r="0.85" fill="#111"/>
<circle cx="340.1" cy="215.7" r="0.85" fill="#111"/>
<circle cx="347.8" cy="215.7" r="0.85" fill="#111"/>
<circle cx="336.9" cy="220.0" r="0.85" fill="#111"/>
<circle cx="341.7" cy="219.7" r="0.85" fill="#111"/>
<circle cx="343.0" cy="221.1" r="0.85" fill="#111"/>
<circle cx="353.2" cy="221.5" r="0.85" fill="#111"/>
<circle cx="342.2" cy="220.4" r="0.85" fill="#111"/>
<circle cx="334.3" cy="218.6" r="0.85" fill="#111"/>
<circle cx="343.7" cy="216.2" r="0.85" fill="#111"/>
<circle cx="347.9" cy="217.5" r="0.85" fill="#111"/>
<circle cx="336.2" cy="218.5" r="0.85" fill="#111"/>
<circle cx="326.5" cy="217.1" r="0.9" fill="#111"/>
<circle cx="365.8" cy="218.3" r="0.9" fill="#111"/>
<line x1="335.8" y1="228.50" x2="365.0" y2="228.50" stroke="#2a2a2a" stroke-width="1.0"/>
<circle cx="335.8" cy="227.53" r="1.0" fill="#111"/>
<circle cx="365.0" cy="228.54" r="1.0" fill="#111"/>
<rect x="341.2" y="224.67" width="14.6" height="7.0" fill="#cc0a2c"/>
<line x1="348.5" y1="224.67" x2="348.5" y2="231.67" stroke="#111" stroke-width="1.2"/>
<circle cx="352.0" cy="228.2" r="0.85" fill="#111"/>
<circle cx="346.4" cy="228.1" r="0.85" fill="#111"/>
<circle cx="346.0" cy="226.5" r="0.85" fill="#111"/>
<circle cx="361.6" cy="229.6" r="0.85" fill="#111"/>
<circle cx="343.8" cy="226.8" r="0.85" fill="#111"/>
<circle cx="341.8" cy="228.2" r="0.85" fill="#111"/>
<circle cx="349.3" cy="227.3" r="0.85" fill="#111"/>
<circle cx="351.2" cy="229.1" r="0.85" fill="#111"/>
<circle cx="349.2" cy="229.3" r="0.85" fill="#111"/>
<circle cx="361.3" cy="229.5" r="0.85" fill="#111"/>
<circle cx="345.8" cy="227.7" r="0.85" fill="#111"/>
<circle cx="347.1" cy="227.5" r="0.85" fill="#111"/>
<circle cx="343.3" cy="231.2" r="0.85" fill="#111"/>
<circle cx="350.1" cy="230.7" r="0.85" fill="#111"/>
<circle cx="350.1" cy="227.4" r="0.85" fill="#111"/>
<circle cx="344.1" cy="225.9" r="0.85" fill="#111"/>
<circle cx="358.7" cy="230.6" r="0.85" fill="#111"/>
<circle cx="351.3" cy="227.1" r="0.85" fill="#111"/>
<circle cx="351.8" cy="227.1" r="0.85" fill="#111"/>
<circle cx="335.8" cy="229.6" r="0.85" fill="#111"/>
<line x1="327.3" y1="237.50" x2="355.0" y2="237.50" stroke="#2a2a2a" stroke-width="1.0"/>
<circle cx="327.3" cy="238.45" r="1.0" fill="#111"/>
<circle cx="355.0" cy="237.76" r="1.0" fill="#111"/>
<rect x="335.8" y="234.24" width="10.0" height="7.0" fill="#cc0a2c"/>
<line x1="340.8" y1="234.24" x2="340.8" y2="241.24" stroke="#111" stroke-width="1.2"/>
<circle cx="345.7" cy="236.1" r="0.85" fill="#111"/>
<circle cx="347.9" cy="237.0" r="0.85" fill="#111"/>
<circle cx="338.2" cy="237.9" r="0.85" fill="#111"/>
<circle cx="346.1" cy="236.7" r="0.85" fill="#111"/>
<circle cx="342.3" cy="236.1" r="0.85" fill="#111"/>
<circle cx="334.6" cy="240.2" r="0.85" fill="#111"/>
<circle cx="343.0" cy="237.9" r="0.85" fill="#111"/>
<circle cx="338.0" cy="235.6" r="0.85" fill="#111"/>
<circle cx="341.9" cy="237.9" r="0.85" fill="#111"/>
<circle cx="343.9" cy="236.2" r="0.85" fill="#111"/>
<circle cx="344.0" cy="237.5" r="0.85" fill="#111"/>
<circle cx="350.2" cy="240.1" r="0.85" fill="#111"/>
<circle cx="328.5" cy="237.0" r="0.85" fill="#111"/>
<circle cx="350.0" cy="235.5" r="0.85" fill="#111"/>
<circle cx="338.3" cy="235.4" r="0.85" fill="#111"/>
<circle cx="343.8" cy="237.9" r="0.85" fill="#111"/>
<circle cx="336.7" cy="237.1" r="0.85" fill="#111"/>
<circle cx="346.6" cy="237.4" r="0.85" fill="#111"/>
<circle cx="343.8" cy="239.3" r="0.85" fill="#111"/>
<circle cx="342.6" cy="236.9" r="0.85" fill="#111"/>
<line x1="328.8" y1="247.50" x2="349.6" y2="247.50" stroke="#2a2a2a" stroke-width="1.0"/>
<circle cx="328.8" cy="247.35" r="1.0" fill="#111"/>
<circle cx="349.6" cy="246.79" r="1.0" fill="#111"/>
<rect x="339.6" y="243.81" width="9.2" height="7.0" fill="#3aa6dd"/>
<line x1="344.2" y1="243.81" x2="344.2" y2="250.81" stroke="#111" stroke-width="1.2"/>
<circle cx="342.7" cy="246.6" r="0.85" fill="#111"/>
<circle cx="341.4" cy="247.7" r="0.85" fill="#111"/>
<circle cx="341.2" cy="248.6" r="0.85" fill="#111"/>
<circle cx="342.6" cy="245.8" r="0.85" fill="#111"/>
<circle cx="330.7" cy="248.1" r="0.85" fill="#111"/>
<circle cx="333.0" cy="246.8" r="0.85" fill="#111"/>
<circle cx="341.7" cy="246.5" r="0.85" fill="#111"/>
<circle cx="343.7" cy="246.5" r="0.85" fill="#111"/>
<circle cx="334.9" cy="246.8" r="0.85" fill="#111"/>
<circle cx="345.7" cy="246.4" r="0.85" fill="#111"/>
<circle cx="344.9" cy="249.9" r="0.85" fill="#111"/>
<circle cx="348.5" cy="248.6" r="0.85" fill="#111"/>
<circle cx="345.7" cy="246.3" r="0.85" fill="#111"/>
<circle cx="346.6" cy="246.6" r="0.85" fill="#111"/>
<circle cx="344.2" cy="249.7" r="0.85" fill="#111"/>
<circle cx="329.3" cy="247.9" r="0.85" fill="#111"/>
<circle cx="343.9" cy="249.3" r="0.85" fill="#111"/>
<circle cx="344.0" cy="249.7" r="0.85" fill="#111"/>
<circle cx="362.0" cy="247.1" r="0.9" fill="#111"/>
<circle cx="365.8" cy="247.3" r="0.9" fill="#111"/>
<line x1="313.5" y1="256.50" x2="362.7" y2="256.50" stroke="#2a2a2a" stroke-width="1.0"/>
<circle cx="313.5" cy="256.90" r="1.0" fill="#111"/>
<circle cx="362.7" cy="257.53" r="1.0" fill="#111"/>
<rect x="336.2" y="253.38" width="15.0" height="7.0" fill="#cc0a2c"/>
<line x1="343.7" y1="253.38" x2="343.7" y2="260.38" stroke="#111" stroke-width="1.2"/>
<circle cx="349.9" cy="256.3" r="0.85" fill="#111"/>
<circle cx="346.4" cy="257.2" r="0.85" fill="#111"/>
<circle cx="351.4" cy="254.6" r="0.85" fill="#111"/>
<circle cx="337.4" cy="258.8" r="0.85" fill="#111"/>
<circle cx="337.5" cy="258.4" r="0.85" fill="#111"/>
<circle cx="337.0" cy="258.0" r="0.85" fill="#111"/>
<circle cx="337.3" cy="254.2" r="0.85" fill="#111"/>
<circle cx="334.1" cy="257.4" r="0.85" fill="#111"/>
<circle cx="353.7" cy="259.1" r="0.85" fill="#111"/>
<circle cx="341.2" cy="257.0" r="0.85" fill="#111"/>
<circle cx="351.0" cy="255.5" r="0.85" fill="#111"/>
<circle cx="340.9" cy="255.4" r="0.85" fill="#111"/>
<circle cx="340.8" cy="256.9" r="0.85" fill="#111"/>
<circle cx="337.0" cy="255.7" r="0.85" fill="#111"/>
<circle cx="353.0" cy="259.0" r="0.85" fill="#111"/>
<circle cx="339.2" cy="254.2" r="0.85" fill="#111"/>
<circle cx="341.8" cy="256.7" r="0.85" fill="#111"/>
<circle cx="345.0" cy="256.1" r="0.85" fill="#111"/>
<circle cx="323.4" cy="259.4" r="0.85" fill="#111"/>
<circle cx="337.0" cy="255.8" r="0.85" fill="#111"/>
<line x1="328.0" y1="266.50" x2="348.0" y2="266.50" stroke="#2a2a2a" stroke-width="1.0"/>
<circle cx="328.0" cy="266.52" r="1.0" fill="#111"/>
<circle cx="348.0" cy="266.27" r="1.0" fill="#111"/>
<rect x="334.7" y="262.95" width="8.0" height="7.0" fill="#cc0a2c"/>
<line x1="338.7" y1="262.95" x2="338.7" y2="269.95" stroke="#111" stroke-width="1.2"/>
<circle cx="337.3" cy="265.1" r="0.85" fill="#111"/>
<circle cx="333.8" cy="267.7" r="0.85" fill="#111"/>
<circle cx="339.8" cy="266.2" r="0.85" fill="#111"/>
<circle cx="336.9" cy="268.7" r="0.85" fill="#111"/>
<circle cx="338.2" cy="267.3" r="0.85" fill="#111"/>
<circle cx="341.6" cy="263.9" r="0.85" fill="#111"/>
<circle cx="336.1" cy="269.0" r="0.85" fill="#111"/>
<circle cx="341.1" cy="266.4" r="0.85" fill="#111"/>
<circle cx="341.5" cy="265.2" r="0.85" fill="#111"/>
<circle cx="341.4" cy="264.3" r="0.85" fill="#111"/>
<circle cx="332.1" cy="264.1" r="0.85" fill="#111"/>
<circle cx="341.0" cy="269.2" r="0.85" fill="#111"/>
<circle cx="340.0" cy="265.0" r="0.85" fill="#111"/>
<circle cx="341.7" cy="264.4" r="0.85" fill="#111"/>
<circle cx="340.3" cy="263.7" r="0.85" fill="#111"/>
<circle cx="333.9" cy="264.8" r="0.85" fill="#111"/>
<circle cx="337.2" cy="266.8" r="0.85" fill="#111"/>
<circle cx="342.0" cy="265.4" r="0.85" fill="#111"/>
<circle cx="331.0" cy="268.2" r="0.85" fill="#111"/>
<circle cx="355.0" cy="268.4" r="0.9" fill="#111"/>
<line x1="312.7" y1="276.50" x2="351.2" y2="276.50" stroke="#2a2a2a" stroke-width="1.0"/>
<circle cx="312.7" cy="275.80" r="1.0" fill="#111"/>
<circle cx="351.2" cy="275.09" r="1.0" fill="#111"/>
<rect x="322.0" y="272.52" width="21.5" height="7.0" fill="#cc0a2c"/>
<line x1="332.8" y1="272.52" x2="332.8" y2="279.52" stroke="#111" stroke-width="1.2"/>
<circle cx="335.8" cy="274.4" r="0.85" fill="#111"/>
<circle cx="324.0" cy="275.8" r="0.85" fill="#111"/>
<circle cx="329.2" cy="277.1" r="0.85" fill="#111"/>
<circle cx="339.8" cy="273.8" r="0.85" fill="#111"/>
<circle cx="351.1" cy="278.7" r="0.85" fill="#111"/>
<circle cx="328.3" cy="275.1" r="0.85" fill="#111"/>
<circle cx="331.8" cy="278.6" r="0.85" fill="#111"/>
<circle cx="332.4" cy="278.2" r="0.85" fill="#111"/>
<circle cx="333.6" cy="273.6" r="0.85" fill="#111"/>
<circle cx="327.8" cy="278.4" r="0.85" fill="#111"/>
<circle cx="321.4" cy="278.6" r="0.85" fill="#111"/>
<circle cx="334.9" cy="278.8" r="0.85" fill="#111"/>
<circle cx="342.3" cy="277.0" r="0.85" fill="#111"/>
<circle cx="329.2" cy="275.7" r="0.85" fill="#111"/>
<circle cx="338.0" cy="274.1" r="0.85" fill="#111"/>
<circle cx="324.2" cy="273.4" r="0.85" fill="#111"/>
<circle cx="324.1" cy="276.3" r="0.85" fill="#111"/>
<circle cx="335.6" cy="275.8" r="0.85" fill="#111"/>
<circle cx="383.8" cy="274.2" r="0.9" fill="#111"/>
<circle cx="386.0" cy="276.1" r="0.9" fill="#111"/>
<line x1="305.8" y1="285.50" x2="356.5" y2="285.50" stroke="#2a2a2a" stroke-width="1.0"/>
<circle cx="305.8" cy="284.78" r="1.0" fill="#111"/>
<circle cx="356.5" cy="285.88" r="1.0" fill="#111"/>
<rect x="322.7" y="282.09" width="20.0" height="7.0" fill="#cc0a2c"/>
<line x1="332.7" y1="282.09" x2="332.7" y2="289.09" stroke="#111" stroke-width="1.2"/>
<circle cx="334.3" cy="284.7" r="0.85" fill="#111"/>
<circle cx="336.0" cy="283.6" r="0.85" fill="#111"/>
<circle cx="341.5" cy="284.6" r="0.85" fill="#111"/>
<circle cx="350.1" cy="285.5" r="0.85" fill="#111"/>
<circle cx="324.6" cy="287.9" r="0.85" fill="#111"/>
<circle cx="332.6" cy="285.8" r="0.85" fill="#111"/>
<circle cx="332.1" cy="283.6" r="0.85" fill="#111"/>
<circle cx="332.8" cy="284.8" r="0.85" fill="#111"/>
<circle cx="330.8" cy="283.8" r="0.85" fill="#111"/>
<circle cx="327.5" cy="287.8" r="0.85" fill="#111"/>
<circle cx="340.5" cy="282.7" r="0.85" fill="#111"/>
<circle cx="330.6" cy="287.3" r="0.85" fill="#111"/>
<circle cx="336.5" cy="284.0" r="0.85" fill="#111"/>
<circle cx="313.6" cy="284.2" r="0.85" fill="#111"/>
<circle cx="330.6" cy="285.7" r="0.85" fill="#111"/>
<circle cx="340.5" cy="283.1" r="0.85" fill="#111"/>
<circle cx="327.4" cy="286.2" r="0.85" fill="#111"/>
<circle cx="341.8" cy="283.0" r="0.85" fill="#111"/>
<circle cx="334.7" cy="288.5" r="0.85" fill="#111"/>
<circle cx="335.1" cy="286.7" r="0.85" fill="#111"/>
<circle cx="445.4" cy="25.3" r="0.95" fill="#111"/><circle cx="445.4" cy="27.4" r="0.95" fill="#111"/>
<g font-size="8.7" fill="#303030">
<text transform="matrix(0.92,0,0,1,171.5,30.00)">Romi</text><text transform="matrix(0.92,0,0,1,201.6,30.00)" text-anchor="middle">+</text><text transform="matrix(0.92,0,0,1,209,30.00)">Veneto</text>
<text transform="matrix(0.92,0,0,1,171.5,39.57)">Ida</text><text transform="matrix(0.92,0,0,1,201.6,39.57)" text-anchor="middle">+</text><text transform="matrix(0.92,0,0,1,209,39.57)">Romi</text>
<text transform="matrix(0.92,0,0,1,171.5,49.14)">Cladri</text><text transform="matrix(0.92,0,0,1,201.6,49.14)" text-anchor="middle">+</text><text transform="matrix(0.92,0,0,1,209,49.14)">Ida</text>
<text transform="matrix(0.92,0,0,1,171.5,58.71)">Cladri</text><text transform="matrix(0.92,0,0,1,201.6,58.71)" text-anchor="middle">+</text><text transform="matrix(0.92,0,0,1,209,58.71)">Romi</text>
<text transform="matrix(0.92,0,0,1,171.5,68.28)">Ida</text><text transform="matrix(0.92,0,0,1,201.6,68.28)" text-anchor="middle">+</text><text transform="matrix(0.92,0,0,1,209,68.28)">Veneto</text>
<text transform="matrix(0.92,0,0,1,171.5,77.85)">Romi</text><text transform="matrix(0.92,0,0,1,201.6,77.85)" text-anchor="middle">+</text><text transform="matrix(0.92,0,0,1,209,77.85)">Ruxo</text>
<text transform="matrix(0.92,0,0,1,171.5,87.42)">Benda</text><text transform="matrix(0.92,0,0,1,201.6,87.42)" text-anchor="middle">+</text><text transform="matrix(0.92,0,0,1,209,87.42)">Romi</text>
<text transform="matrix(0.92,0,0,1,171.5,96.99)">Ida</text><text transform="matrix(0.92,0,0,1,201.6,96.99)" text-anchor="middle">+</text><text transform="matrix(0.92,0,0,1,209,96.99)">Ruxo</text>
<text transform="matrix(0.92,0,0,1,171.5,106.56)">Ibru</text><text transform="matrix(0.92,0,0,1,201.6,106.56)" text-anchor="middle">+</text><text transform="matrix(0.92,0,0,1,209,106.56)">Ida</text>
<text transform="matrix(0.92,0,0,1,171.5,116.13)">Ibru</text><text transform="matrix(0.92,0,0,1,201.6,116.13)" text-anchor="middle">+</text><text transform="matrix(0.92,0,0,1,209,116.13)">Romi</text>
<text transform="matrix(0.92,0,0,1,171.5,125.70)">Ruxo</text><text transform="matrix(0.92,0,0,1,201.6,125.70)" text-anchor="middle">+</text><text transform="matrix(0.92,0,0,1,209,125.70)">Veneto</text>
<text transform="matrix(0.92,0,0,1,171.5,135.27)">Benda</text><text transform="matrix(0.92,0,0,1,201.6,135.27)" text-anchor="middle">+</text><text transform="matrix(0.92,0,0,1,209,135.27)">Ida</text>
<text transform="matrix(0.92,0,0,1,171.5,144.84)">Benda</text><text transform="matrix(0.92,0,0,1,201.6,144.84)" text-anchor="middle">+</text><text transform="matrix(0.92,0,0,1,209,144.84)">Veneto</text>
<text transform="matrix(0.92,0,0,1,171.5,154.41)">Cladri</text><text transform="matrix(0.92,0,0,1,201.6,154.41)" text-anchor="middle">+</text><text transform="matrix(0.92,0,0,1,209,154.41)">Veneto</text>
<text transform="matrix(0.92,0,0,1,171.5,163.98)">Ibru</text><text transform="matrix(0.92,0,0,1,201.6,163.98)" text-anchor="middle">+</text><text transform="matrix(0.92,0,0,1,209,163.98)">Veneto</text>
<text transform="matrix(0.92,0,0,1,171.5,173.55)">Dina</text><text transform="matrix(0.92,0,0,1,201.6,173.55)" text-anchor="middle">+</text><text transform="matrix(0.92,0,0,1,209,173.55)">Romi</text>
<text transform="matrix(0.92,0,0,1,171.5,183.12)">Benda</text><text transform="matrix(0.92,0,0,1,201.6,183.12)" text-anchor="middle">+</text><text transform="matrix(0.92,0,0,1,209,183.12)">Cladri</text>
<text transform="matrix(0.92,0,0,1,171.5,192.69)">Dina</text><text transform="matrix(0.92,0,0,1,201.6,192.69)" text-anchor="middle">+</text><text transform="matrix(0.92,0,0,1,209,192.69)">Veneto</text>
<text transform="matrix(0.92,0,0,1,171.5,202.26)">Dina</text><text transform="matrix(0.92,0,0,1,201.6,202.26)" text-anchor="middle">+</text><text transform="matrix(0.92,0,0,1,209,202.26)">Ida</text>
<text transform="matrix(0.92,0,0,1,171.5,211.83)">Cladri</text><text transform="matrix(0.92,0,0,1,201.6,211.83)" text-anchor="middle">+</text><text transform="matrix(0.92,0,0,1,209,211.83)">Ruxo</text>
<text transform="matrix(0.92,0,0,1,171.5,221.40)">Cladri</text><text transform="matrix(0.92,0,0,1,201.6,221.40)" text-anchor="middle">+</text><text transform="matrix(0.92,0,0,1,209,221.40)">Ibru</text>
<text transform="matrix(0.92,0,0,1,171.5,230.97)">Benda</text><text transform="matrix(0.92,0,0,1,201.6,230.97)" text-anchor="middle">+</text><text transform="matrix(0.92,0,0,1,209,230.97)">Ruxo</text>
<text transform="matrix(0.92,0,0,1,171.5,240.54)">Benda</text><text transform="matrix(0.92,0,0,1,201.6,240.54)" text-anchor="middle">+</text><text transform="matrix(0.92,0,0,1,209,240.54)">Ibru</text>
<text transform="matrix(0.92,0,0,1,171.5,250.11)">Benda</text><text transform="matrix(0.92,0,0,1,201.6,250.11)" text-anchor="middle">+</text><text transform="matrix(0.92,0,0,1,209,250.11)">Dina</text>
<text transform="matrix(0.92,0,0,1,171.5,259.68)">Ibru</text><text transform="matrix(0.92,0,0,1,201.6,259.68)" text-anchor="middle">+</text><text transform="matrix(0.92,0,0,1,209,259.68)">Ruxo</text>
<text transform="matrix(0.92,0,0,1,171.5,269.25)">Dina</text><text transform="matrix(0.92,0,0,1,201.6,269.25)" text-anchor="middle">+</text><text transform="matrix(0.92,0,0,1,209,269.25)">Ibru</text>
<text transform="matrix(0.92,0,0,1,171.5,278.82)">Cladri</text><text transform="matrix(0.92,0,0,1,201.6,278.82)" text-anchor="middle">+</text><text transform="matrix(0.92,0,0,1,209,278.82)">Dina</text>
<text transform="matrix(0.92,0,0,1,171.5,288.39)">Dina</text><text transform="matrix(0.92,0,0,1,201.6,288.39)" text-anchor="middle">+</text><text transform="matrix(0.92,0,0,1,209,288.39)">Ruxo</text>
<text transform="matrix(0.92,0,0,1,449.7,30.00)">Cladri</text><text transform="matrix(0.92,0,0,1,479,30.00)" text-anchor="middle">+</text><text transform="matrix(0.92,0,0,1,487,30.00)">Ida</text>
<text transform="matrix(0.92,0,0,1,449.7,39.57)">Benda</text><text transform="matrix(0.92,0,0,1,479,39.57)" text-anchor="middle">+</text><text transform="matrix(0.92,0,0,1,487,39.57)">Ida</text>
<text transform="matrix(0.92,0,0,1,449.7,49.14)">Ruxo</text><text transform="matrix(0.92,0,0,1,479,49.14)" text-anchor="middle">+</text><text transform="matrix(0.92,0,0,1,487,49.14)">Veneto</text>
<text transform="matrix(0.92,0,0,1,449.7,58.71)">Ida</text><text transform="matrix(0.92,0,0,1,479,58.71)" text-anchor="middle">+</text><text transform="matrix(0.92,0,0,1,487,58.71)">Veneto</text>
<text transform="matrix(0.92,0,0,1,449.7,68.28)">Ida</text><text transform="matrix(0.92,0,0,1,479,68.28)" text-anchor="middle">+</text><text transform="matrix(0.92,0,0,1,487,68.28)">Ruxo</text>
<text transform="matrix(0.92,0,0,1,449.7,77.85)">Ibru</text><text transform="matrix(0.92,0,0,1,479,77.85)" text-anchor="middle">+</text><text transform="matrix(0.92,0,0,1,487,77.85)">Veneto</text>
<text transform="matrix(0.92,0,0,1,449.7,87.42)">Ibru</text><text transform="matrix(0.92,0,0,1,479,87.42)" text-anchor="middle">+</text><text transform="matrix(0.92,0,0,1,487,87.42)">Ida</text>
<text transform="matrix(0.92,0,0,1,449.7,96.99)">Cladri</text><text transform="matrix(0.92,0,0,1,479,96.99)" text-anchor="middle">+</text><text transform="matrix(0.92,0,0,1,487,96.99)">Ibru</text>
<text transform="matrix(0.92,0,0,1,449.7,106.56)">Benda</text><text transform="matrix(0.92,0,0,1,479,106.56)" text-anchor="middle">+</text><text transform="matrix(0.92,0,0,1,487,106.56)">Veneto</text>
<text transform="matrix(0.92,0,0,1,449.7,116.13)">Benda</text><text transform="matrix(0.92,0,0,1,479,116.13)" text-anchor="middle">+</text><text transform="matrix(0.92,0,0,1,487,116.13)">Cladri</text>
<text transform="matrix(0.92,0,0,1,449.7,125.70)">Ida</text><text transform="matrix(0.92,0,0,1,479,125.70)" text-anchor="middle">+</text><text transform="matrix(0.92,0,0,1,487,125.70)">Romi</text>
<text transform="matrix(0.92,0,0,1,449.7,135.27)">Romi</text><text transform="matrix(0.92,0,0,1,479,135.27)" text-anchor="middle">+</text><text transform="matrix(0.92,0,0,1,487,135.27)">Veneto</text>
<text transform="matrix(0.92,0,0,1,449.7,144.84)">Romi</text><text transform="matrix(0.92,0,0,1,479,144.84)" text-anchor="middle">+</text><text transform="matrix(0.92,0,0,1,487,144.84)">Ruxo</text>
<text transform="matrix(0.92,0,0,1,449.7,154.41)">Benda</text><text transform="matrix(0.92,0,0,1,479,154.41)" text-anchor="middle">+</text><text transform="matrix(0.92,0,0,1,487,154.41)">Ibru</text>
<text transform="matrix(0.92,0,0,1,449.7,163.98)">Dina</text><text transform="matrix(0.92,0,0,1,479,163.98)" text-anchor="middle">+</text><text transform="matrix(0.92,0,0,1,487,163.98)">Ibru</text>
<text transform="matrix(0.92,0,0,1,449.7,173.55)">Benda</text><text transform="matrix(0.92,0,0,1,479,173.55)" text-anchor="middle">+</text><text transform="matrix(0.92,0,0,1,487,173.55)">Ruxo</text>
<text transform="matrix(0.92,0,0,1,449.7,183.12)">Cladri</text><text transform="matrix(0.92,0,0,1,479,183.12)" text-anchor="middle">+</text><text transform="matrix(0.92,0,0,1,487,183.12)">Ruxo</text>
<text transform="matrix(0.92,0,0,1,449.7,192.69)">Ibru</text><text transform="matrix(0.92,0,0,1,479,192.69)" text-anchor="middle">+</text><text transform="matrix(0.92,0,0,1,487,192.69)">Ruxo</text>
<text transform="matrix(0.92,0,0,1,449.7,202.26)">Benda</text><text transform="matrix(0.92,0,0,1,479,202.26)" text-anchor="middle">+</text><text transform="matrix(0.92,0,0,1,487,202.26)">Dina</text>
<text transform="matrix(0.92,0,0,1,449.7,211.83)">Benda</text><text transform="matrix(0.92,0,0,1,479,211.83)" text-anchor="middle">+</text><text transform="matrix(0.92,0,0,1,487,211.83)">Romi</text>
<text transform="matrix(0.92,0,0,1,449.7,221.40)">Ibru</text><text transform="matrix(0.92,0,0,1,479,221.40)" text-anchor="middle">+</text><text transform="matrix(0.92,0,0,1,487,221.40)">Romi</text>
<text transform="matrix(0.92,0,0,1,449.7,230.97)">Dina</text><text transform="matrix(0.92,0,0,1,479,230.97)" text-anchor="middle">+</text><text transform="matrix(0.92,0,0,1,487,230.97)">Veneto</text>
<text transform="matrix(0.92,0,0,1,449.7,240.54)">Dina</text><text transform="matrix(0.92,0,0,1,479,240.54)" text-anchor="middle">+</text><text transform="matrix(0.92,0,0,1,487,240.54)">Ruxo</text>
<text transform="matrix(0.92,0,0,1,449.7,250.11)">Cladri</text><text transform="matrix(0.92,0,0,1,479,250.11)" text-anchor="middle">+</text><text transform="matrix(0.92,0,0,1,487,250.11)">Romi</text>
<text transform="matrix(0.92,0,0,1,449.7,259.68)">Cladri</text><text transform="matrix(0.92,0,0,1,479,259.68)" text-anchor="middle">+</text><text transform="matrix(0.92,0,0,1,487,259.68)">Veneto</text>
<text transform="matrix(0.92,0,0,1,449.7,269.25)">Dina</text><text transform="matrix(0.92,0,0,1,479,269.25)" text-anchor="middle">+</text><text transform="matrix(0.92,0,0,1,487,269.25)">Romi</text>
<text transform="matrix(0.92,0,0,1,449.7,278.82)">Dina</text><text transform="matrix(0.92,0,0,1,479,278.82)" text-anchor="middle">+</text><text transform="matrix(0.92,0,0,1,487,278.82)">Ida</text>
<text transform="matrix(0.92,0,0,1,449.7,288.39)">Cladri</text><text transform="matrix(0.92,0,0,1,479,288.39)" text-anchor="middle">+</text><text transform="matrix(0.92,0,0,1,487,288.39)">Dina</text>
</g>
<line x1="22.8" y1="294.8" x2="174" y2="294.8" stroke="#1a1a1a" stroke-width="1.8"/>
<line x1="27.1" y1="294.8" x2="27.1" y2="298.3" stroke="#1a1a1a" stroke-width="1"/>
<text x="27.1" y="309.3" font-size="9" fill="#303030" text-anchor="middle">0</text>
<line x1="61.3" y1="294.8" x2="61.3" y2="298.3" stroke="#1a1a1a" stroke-width="1"/>
<text x="61.3" y="309.3" font-size="9" fill="#303030" text-anchor="middle">20</text>
<line x1="95.5" y1="294.8" x2="95.5" y2="298.3" stroke="#1a1a1a" stroke-width="1"/>
<text x="95.5" y="309.3" font-size="9" fill="#303030" text-anchor="middle">40</text>
<line x1="129.8" y1="294.8" x2="129.8" y2="298.3" stroke="#1a1a1a" stroke-width="1"/>
<text x="129.8" y="309.3" font-size="9" fill="#303030" text-anchor="middle">60</text>
<line x1="164" y1="294.8" x2="164" y2="298.3" stroke="#1a1a1a" stroke-width="1"/>
<text x="164" y="309.3" font-size="9" fill="#303030" text-anchor="middle">80</text>
<text x="112.8" y="292.2" font-size="9" fill="#303030" textLength="43.5" lengthAdjust="spacingAndGlyphs">n = 20 T-PLL</text>
<text x="60.2" y="323.8" font-size="10.5" fill="#303030" textLength="76" lengthAdjust="spacingAndGlyphs">Efficacy at TC50 (DSS)</text>
<line x1="296.6" y1="294.8" x2="441.5" y2="294.8" stroke="#1a1a1a" stroke-width="1.8"/>
<line x1="301.8" y1="294.8" x2="301.8" y2="298.3" stroke="#1a1a1a" stroke-width="1"/>
<text x="301.8" y="309.3" font-size="9" fill="#303030" text-anchor="middle">–10</text>
<line x1="345.2" y1="294.8" x2="345.2" y2="298.3" stroke="#1a1a1a" stroke-width="1"/>
<text x="345.2" y="309.3" font-size="9" fill="#303030" text-anchor="middle">0</text>
<line x1="399.4" y1="294.8" x2="399.4" y2="298.3" stroke="#1a1a1a" stroke-width="1"/>
<text x="399.4" y="309.3" font-size="9" fill="#303030" text-anchor="middle">10</text>
<text x="387.5" y="292.2" font-size="9" fill="#303030" textLength="43.5" lengthAdjust="spacingAndGlyphs">n = 20 T-PLL</text>
<text x="306" y="323.8" font-size="10.5" fill="#303030" textLength="126" lengthAdjust="spacingAndGlyphs">Synergy at TC50 (ZIP synergy score)</text>
<polyline points="36.8,348.8 36.8,567.6 510,567.6" fill="none" stroke="#1a1a1a" stroke-width="1.5"/>
<text x="221.5" y="580.5" font-size="9.5" fill="#303030" textLength="105.5" lengthAdjust="spacingAndGlyphs">log [drug combination] [μM]</text>
<text transform="translate(30.5,524) rotate(-90)" font-size="10" fill="#303030" textLength="132" lengthAdjust="spacingAndGlyphs">AnnV/7AAD neg. cells [%] (rel. to ctrl)</text>
<line x1="60.7" y1="363.3" x2="60.7" y2="434.7" stroke="#1a1a1a" stroke-width="1.5"/>
<line x1="60.7" y1="434.7" x2="176.1" y2="434.7" stroke="#1a1a1a" stroke-width="1.5"/>
<line x1="56.7" y1="434.7" x2="60.7" y2="434.7" stroke="#1a1a1a" stroke-width="1.1"/>
<text transform="matrix(0.9,0,0,1,53.9,437.8)" font-size="8.8" fill="#303030" text-anchor="end">0</text>
<line x1="56.7" y1="418.6" x2="60.7" y2="418.6" stroke="#1a1a1a" stroke-width="1.1"/>
<text transform="matrix(0.9,0,0,1,53.9,421.7)" font-size="8.8" fill="#303030" text-anchor="end">25</text>
<line x1="56.7" y1="402.4" x2="60.7" y2="402.4" stroke="#1a1a1a" stroke-width="1.1"/>
<text transform="matrix(0.9,0,0,1,53.9,405.5)" font-size="8.8" fill="#303030" text-anchor="end">50</text>
<line x1="56.7" y1="386.2" x2="60.7" y2="386.2" stroke="#1a1a1a" stroke-width="1.1"/>
<text transform="matrix(0.9,0,0,1,53.9,389.4)" font-size="8.8" fill="#303030" text-anchor="end">75</text>
<line x1="56.7" y1="370.1" x2="60.7" y2="370.1" stroke="#1a1a1a" stroke-width="1.1"/>
<text transform="matrix(0.9,0,0,1,53.9,373.2)" font-size="8.8" fill="#303030" text-anchor="end">100</text>
<line x1="60.7" y1="434.7" x2="60.7" y2="438.3" stroke="#1a1a1a" stroke-width="1.1"/>
<text transform="matrix(0.9,0,0,1,60.4,449.1)" font-size="8.8" fill="#303030" text-anchor="middle">–1</text>
<line x1="98.0" y1="434.7" x2="98.0" y2="438.3" stroke="#1a1a1a" stroke-width="1.1"/>
<text transform="matrix(0.9,0,0,1,97.7,449.1)" font-size="8.8" fill="#303030" text-anchor="middle">–2</text>
<line x1="135.3" y1="434.7" x2="135.3" y2="438.3" stroke="#1a1a1a" stroke-width="1.1"/>
<text transform="matrix(0.9,0,0,1,135.0,449.1)" font-size="8.8" fill="#303030" text-anchor="middle">–3</text>
<line x1="172.6" y1="434.7" x2="172.6" y2="438.3" stroke="#1a1a1a" stroke-width="1.1"/>
<text transform="matrix(0.9,0,0,1,172.3,449.1)" font-size="8.8" fill="#303030" text-anchor="middle">–4</text>
<text x="118.7" y="357.1" font-size="10.6" fill="#303030" text-anchor="middle">Cladri + Ida</text>
<line x1="62.7" y1="402.5" x2="172.6" y2="402.5" stroke="#222" stroke-width="1" stroke-dasharray="1 1.6"/>
<line x1="127.5" y1="404.1" x2="127.5" y2="434.7" stroke="#222" stroke-width="1" stroke-dasharray="1 1.6"/>
<line x1="172.5" y1="404.1" x2="172.5" y2="434.7" stroke="#222" stroke-width="1" stroke-dasharray="1 1.6"/>
<polyline points="60.70,370.19 62.57,370.21 64.43,370.23 66.30,370.25 68.16,370.28 70.03,370.32 71.89,370.36 73.76,370.41 75.62,370.48 77.48,370.55 79.35,370.64 81.22,370.75 83.08,370.88 84.94,371.04 86.81,371.22 88.67,371.44 90.54,371.71 92.41,372.02 94.27,372.40 96.13,372.84 98.00,373.36 99.86,373.98 101.73,374.71 103.59,375.56 105.46,376.55 107.33,377.69 109.19,379.01 111.06,380.52 112.92,382.22 114.78,384.13 116.65,386.25 118.51,388.57 120.38,391.09 122.25,393.76 124.11,396.58 125.97,399.48 127.84,402.44 129.70,405.39 131.57,408.30 133.44,411.11 135.30,413.78 137.16,416.29 139.03,418.61 140.89,420.72 142.76,422.63 144.62,424.33 146.49,425.83 148.36,427.14 150.22,428.28 152.09,429.27 153.95,430.11 155.81,430.84 157.68,431.45 159.54,431.97 161.41,432.41 163.27,432.79 165.14,433.10 167.00,433.36 168.87,433.58 170.74,433.77 172.60,433.92" fill="none" stroke="#7f78ba" stroke-width="0.95"/>
<line x1="98.0" y1="369.5" x2="98.0" y2="377.5" stroke="#7f78ba" stroke-width="0.7" opacity="0.55"/>
<line x1="96.7" y1="369.5" x2="99.3" y2="369.5" stroke="#7f78ba" stroke-width="0.7" opacity="0.55"/>
<line x1="96.7" y1="377.5" x2="99.3" y2="377.5" stroke="#7f78ba" stroke-width="0.7" opacity="0.55"/>
<rect x="97.0" y="372.5" width="2.0" height="2.0" fill="#7f78ba" opacity="0.85"/>
<line x1="135.3" y1="409.8" x2="135.3" y2="417.8" stroke="#7f78ba" stroke-width="0.7" opacity="0.55"/>
<line x1="134.0" y1="409.8" x2="136.6" y2="409.8" stroke="#7f78ba" stroke-width="0.7" opacity="0.55"/>
<line x1="134.0" y1="417.8" x2="136.6" y2="417.8" stroke="#7f78ba" stroke-width="0.7" opacity="0.55"/>
<rect x="134.3" y="412.8" width="2.0" height="2.0" fill="#7f78ba" opacity="0.85"/>
<line x1="172.6" y1="430.4" x2="172.6" y2="438.4" stroke="#7f78ba" stroke-width="0.7" opacity="0.55"/>
<line x1="171.3" y1="430.4" x2="173.9" y2="430.4" stroke="#7f78ba" stroke-width="0.7" opacity="0.55"/>
<line x1="171.3" y1="438.4" x2="173.9" y2="438.4" stroke="#7f78ba" stroke-width="0.7" opacity="0.55"/>
<rect x="171.6" y="433.4" width="2.0" height="2.0" fill="#7f78ba" opacity="0.85"/>
<polyline points="60.70,370.17 62.57,370.18 64.43,370.19 66.30,370.20 68.16,370.22 70.03,370.23 71.89,370.24 73.76,370.26 75.62,370.28 77.48,370.30 79.35,370.33 81.22,370.36 83.08,370.39 84.94,370.42 86.81,370.46 88.67,370.50 90.54,370.55 92.41,370.60 94.27,370.66 96.13,370.73 98.00,370.80 99.86,370.89 101.73,370.98 103.59,371.08 105.46,371.20 107.33,371.33 109.19,371.47 111.06,371.63 112.92,371.81 114.78,372.01 116.65,372.23 118.51,372.48 120.38,372.75 122.25,373.05 124.11,373.39 125.97,373.76 127.84,374.17 129.70,374.63 131.57,375.13 133.44,375.68 135.30,376.28 137.16,376.95 139.03,377.67 140.89,378.46 142.76,379.32 144.62,380.26 146.49,381.26 148.36,382.35 150.22,383.51 152.09,384.76 153.95,386.08 155.81,387.48 157.68,388.96 159.54,390.51 161.41,392.12 163.27,393.79 165.14,395.52 167.00,397.28 168.87,399.08 170.74,400.90 172.60,402.73" fill="none" stroke="#ec8f1e" stroke-width="0.95"/>
<line x1="98.0" y1="366.7" x2="98.0" y2="374.7" stroke="#ec8f1e" stroke-width="0.7" opacity="0.55"/>
<line x1="96.7" y1="366.7" x2="99.3" y2="366.7" stroke="#ec8f1e" stroke-width="0.7" opacity="0.55"/>
<line x1="96.7" y1="374.7" x2="99.3" y2="374.7" stroke="#ec8f1e" stroke-width="0.7" opacity="0.55"/>
<rect x="97.0" y="369.7" width="2.0" height="2.0" fill="#ec8f1e" opacity="0.85"/>
<line x1="135.3" y1="372.3" x2="135.3" y2="380.3" stroke="#ec8f1e" stroke-width="0.7" opacity="0.55"/>
<line x1="134.0" y1="372.3" x2="136.6" y2="372.3" stroke="#ec8f1e" stroke-width="0.7" opacity="0.55"/>
<line x1="134.0" y1="380.3" x2="136.6" y2="380.3" stroke="#ec8f1e" stroke-width="0.7" opacity="0.55"/>
<rect x="134.3" y="375.3" width="2.0" height="2.0" fill="#ec8f1e" opacity="0.85"/>
<line x1="172.6" y1="398.7" x2="172.6" y2="406.7" stroke="#ec8f1e" stroke-width="0.7" opacity="0.55"/>
<line x1="171.3" y1="398.7" x2="173.9" y2="398.7" stroke="#ec8f1e" stroke-width="0.7" opacity="0.55"/>
<line x1="171.3" y1="406.7" x2="173.9" y2="406.7" stroke="#ec8f1e" stroke-width="0.7" opacity="0.55"/>
<rect x="171.6" y="401.7" width="2.0" height="2.0" fill="#ec8f1e" opacity="0.85"/>
<polyline points="60.70,370.69 62.57,370.73 64.43,370.78 66.30,370.82 68.16,370.87 70.03,370.92 71.89,370.97 73.76,371.03 75.62,371.09 77.48,371.16 79.35,371.23 81.22,371.30 83.08,371.38 84.94,371.47 86.81,371.56 88.67,371.65 90.54,371.75 92.41,371.86 94.27,371.98 96.13,372.10 98.00,372.23 99.86,372.37 101.73,372.51 103.59,372.67 105.46,372.83 107.33,373.01 109.19,373.19 111.06,373.39 112.92,373.60 114.78,373.82 116.65,374.06 118.51,374.31 120.38,374.57 122.25,374.85 124.11,375.14 125.97,375.45 127.84,375.78 129.70,376.12 131.57,376.49 133.44,376.87 135.30,377.27 137.16,377.70 139.03,378.15 140.89,378.61 142.76,379.11 144.62,379.62 146.49,380.16 148.36,380.73 150.22,381.32 152.09,381.93 153.95,382.57 155.81,383.24 157.68,383.93 159.54,384.65 161.41,385.40 163.27,386.17 165.14,386.96 167.00,387.79 168.87,388.63 170.74,389.50 172.60,390.40" fill="none" stroke="#c8137c" stroke-width="0.95"/>
<line x1="98.0" y1="368.5" x2="98.0" y2="376.5" stroke="#c8137c" stroke-width="0.7" opacity="0.55"/>
<line x1="96.7" y1="368.5" x2="99.3" y2="368.5" stroke="#c8137c" stroke-width="0.7" opacity="0.55"/>
<line x1="96.7" y1="376.5" x2="99.3" y2="376.5" stroke="#c8137c" stroke-width="0.7" opacity="0.55"/>
<rect x="97.0" y="371.5" width="2.0" height="2.0" fill="#c8137c" opacity="0.85"/>
<line x1="135.3" y1="373.3" x2="135.3" y2="381.3" stroke="#c8137c" stroke-width="0.7" opacity="0.55"/>
<line x1="134.0" y1="373.3" x2="136.6" y2="373.3" stroke="#c8137c" stroke-width="0.7" opacity="0.55"/>
<line x1="134.0" y1="381.3" x2="136.6" y2="381.3" stroke="#c8137c" stroke-width="0.7" opacity="0.55"/>
<rect x="134.3" y="376.3" width="2.0" height="2.0" fill="#c8137c" opacity="0.85"/>
<line x1="172.6" y1="386.4" x2="172.6" y2="394.4" stroke="#c8137c" stroke-width="0.7" opacity="0.55"/>
<line x1="171.3" y1="386.4" x2="173.9" y2="386.4" stroke="#c8137c" stroke-width="0.7" opacity="0.55"/>
<line x1="171.3" y1="394.4" x2="173.9" y2="394.4" stroke="#c8137c" stroke-width="0.7" opacity="0.55"/>
<rect x="171.6" y="389.4" width="2.0" height="2.0" fill="#c8137c" opacity="0.85"/>
<line x1="177.5" y1="405.3" x2="177.5" y2="432.3" stroke="#505050" stroke-width="1"/>
<circle cx="180.3" cy="415.10" r="0.95" fill="#1a1a1a"/>
<circle cx="180.3" cy="418.60" r="0.95" fill="#1a1a1a"/>
<circle cx="180.3" cy="422.10" r="0.95" fill="#1a1a1a"/>
<line x1="182.5" y1="391.3" x2="182.5" y2="432.3" stroke="#505050" stroke-width="1"/>
<circle cx="185.6" cy="408.30" r="0.95" fill="#1a1a1a"/>
<circle cx="185.6" cy="411.80" r="0.95" fill="#1a1a1a"/>
<circle cx="185.6" cy="415.30" r="0.95" fill="#1a1a1a"/>
<line x1="226.5" y1="363.2" x2="226.5" y2="434.6" stroke="#1a1a1a" stroke-width="1.5"/>
<line x1="226.5" y1="434.6" x2="341.9" y2="434.6" stroke="#1a1a1a" stroke-width="1.5"/>
<line x1="222.5" y1="434.6" x2="226.5" y2="434.6" stroke="#1a1a1a" stroke-width="1.1"/>
<text transform="matrix(0.9,0,0,1,219.7,437.7)" font-size="8.8" fill="#303030" text-anchor="end">0</text>
<line x1="222.5" y1="418.5" x2="226.5" y2="418.5" stroke="#1a1a1a" stroke-width="1.1"/>
<text transform="matrix(0.9,0,0,1,219.7,421.6)" font-size="8.8" fill="#303030" text-anchor="end">25</text>
<line x1="222.5" y1="402.3" x2="226.5" y2="402.3" stroke="#1a1a1a" stroke-width="1.1"/>
<text transform="matrix(0.9,0,0,1,219.7,405.4)" font-size="8.8" fill="#303030" text-anchor="end">50</text>
<line x1="222.5" y1="386.2" x2="226.5" y2="386.2" stroke="#1a1a1a" stroke-width="1.1"/>
<text transform="matrix(0.9,0,0,1,219.7,389.3)" font-size="8.8" fill="#303030" text-anchor="end">75</text>
<line x1="222.5" y1="370.0" x2="226.5" y2="370.0" stroke="#1a1a1a" stroke-width="1.1"/>
<text transform="matrix(0.9,0,0,1,219.7,373.1)" font-size="8.8" fill="#303030" text-anchor="end">100</text>
<line x1="226.5" y1="434.6" x2="226.5" y2="438.20000000000005" stroke="#1a1a1a" stroke-width="1.1"/>
<text transform="matrix(0.9,0,0,1,226.2,449.0)" font-size="8.8" fill="#303030" text-anchor="middle">–1</text>
<line x1="263.8" y1="434.6" x2="263.8" y2="438.20000000000005" stroke="#1a1a1a" stroke-width="1.1"/>
<text transform="matrix(0.9,0,0,1,263.5,449.0)" font-size="8.8" fill="#303030" text-anchor="middle">–2</text>
<line x1="301.1" y1="434.6" x2="301.1" y2="438.20000000000005" stroke="#1a1a1a" stroke-width="1.1"/>
<text transform="matrix(0.9,0,0,1,300.8,449.0)" font-size="8.8" fill="#303030" text-anchor="middle">–3</text>
<line x1="338.4" y1="434.6" x2="338.4" y2="438.20000000000005" stroke="#1a1a1a" stroke-width="1.1"/>
<text transform="matrix(0.9,0,0,1,338.1,449.0)" font-size="8.8" fill="#303030" text-anchor="middle">–4</text>
<text x="284.6" y="357.0" font-size="10.6" fill="#303030" text-anchor="middle">Ida + Veneto</text>
<line x1="228.5" y1="402.5" x2="312.5" y2="402.5" stroke="#222" stroke-width="1" stroke-dasharray="1 1.6"/>
<line x1="294.5" y1="404.1" x2="294.5" y2="434.6" stroke="#222" stroke-width="1" stroke-dasharray="1 1.6"/>
<line x1="312.5" y1="404.1" x2="312.5" y2="434.6" stroke="#222" stroke-width="1" stroke-dasharray="1 1.6"/>
<polyline points="226.50,370.13 228.37,370.16 230.23,370.19 232.09,370.22 233.96,370.26 235.82,370.31 237.69,370.37 239.56,370.43 241.42,370.51 243.28,370.61 245.15,370.72 247.01,370.85 248.88,371.01 250.75,371.19 252.61,371.41 254.47,371.66 256.34,371.96 258.20,372.31 260.07,372.72 261.94,373.20 263.80,373.76 265.66,374.41 267.53,375.16 269.39,376.02 271.26,377.02 273.12,378.16 274.99,379.45 276.86,380.91 278.72,382.54 280.58,384.35 282.45,386.34 284.31,388.50 286.18,390.82 288.05,393.29 289.91,395.88 291.77,398.56 293.64,401.29 295.50,404.04 297.37,406.76 299.24,409.42 301.10,411.98 302.96,414.41 304.83,416.70 306.69,418.81 308.56,420.76 310.43,422.52 312.29,424.10 314.15,425.51 316.02,426.76 317.88,427.86 319.75,428.82 321.62,429.66 323.48,430.38 325.34,431.00 327.21,431.54 329.07,432.00 330.94,432.39 332.81,432.73 334.67,433.01 336.53,433.26 338.40,433.46" fill="none" stroke="#7f78ba" stroke-width="0.95"/>
<line x1="263.8" y1="370.5" x2="263.8" y2="378.5" stroke="#7f78ba" stroke-width="0.7" opacity="0.55"/>
<line x1="262.5" y1="370.5" x2="265.1" y2="370.5" stroke="#7f78ba" stroke-width="0.7" opacity="0.55"/>
<line x1="262.5" y1="378.5" x2="265.1" y2="378.5" stroke="#7f78ba" stroke-width="0.7" opacity="0.55"/>
<rect x="262.8" y="373.5" width="2.0" height="2.0" fill="#7f78ba" opacity="0.85"/>
<line x1="301.1" y1="408.4" x2="301.1" y2="416.4" stroke="#7f78ba" stroke-width="0.7" opacity="0.55"/>
<line x1="299.8" y1="408.4" x2="302.4" y2="408.4" stroke="#7f78ba" stroke-width="0.7" opacity="0.55"/>
<line x1="299.8" y1="416.4" x2="302.4" y2="416.4" stroke="#7f78ba" stroke-width="0.7" opacity="0.55"/>
<rect x="300.1" y="411.4" width="2.0" height="2.0" fill="#7f78ba" opacity="0.85"/>
<line x1="338.4" y1="430.3" x2="338.4" y2="438.3" stroke="#7f78ba" stroke-width="0.7" opacity="0.55"/>
<line x1="337.1" y1="430.3" x2="339.7" y2="430.3" stroke="#7f78ba" stroke-width="0.7" opacity="0.55"/>
<line x1="337.1" y1="438.3" x2="339.7" y2="438.3" stroke="#7f78ba" stroke-width="0.7" opacity="0.55"/>
<rect x="337.4" y="433.3" width="2.0" height="2.0" fill="#7f78ba" opacity="0.85"/>
<polyline points="226.50,370.86 228.37,370.95 230.23,371.04 232.09,371.14 233.96,371.25 235.82,371.36 237.69,371.49 239.56,371.64 241.42,371.79 243.28,371.96 245.15,372.14 247.01,372.35 248.88,372.57 250.75,372.80 252.61,373.06 254.47,373.35 256.34,373.65 258.20,373.99 260.07,374.35 261.94,374.74 263.80,375.17 265.66,375.63 267.53,376.12 269.39,376.66 271.26,377.23 273.12,377.85 274.99,378.51 276.86,379.23 278.72,379.98 280.58,380.79 282.45,381.66 284.31,382.57 286.18,383.54 288.05,384.56 289.91,385.63 291.77,386.76 293.64,387.94 295.50,389.16 297.37,390.44 299.24,391.76 301.10,393.12 302.96,394.52 304.83,395.94 306.69,397.40 308.56,398.87 310.43,400.36 312.29,401.86 314.15,403.36 316.02,404.86 317.88,406.34 319.75,407.81 321.62,409.25 323.48,410.67 325.34,412.05 327.21,413.39 329.07,414.70 330.94,415.95 332.81,417.16 334.67,418.32 336.53,419.42 338.40,420.47" fill="none" stroke="#ec8f1e" stroke-width="0.95"/>
<line x1="263.8" y1="370.5" x2="263.8" y2="378.5" stroke="#ec8f1e" stroke-width="0.7" opacity="0.55"/>
<line x1="262.5" y1="370.5" x2="265.1" y2="370.5" stroke="#ec8f1e" stroke-width="0.7" opacity="0.55"/>
<line x1="262.5" y1="378.5" x2="265.1" y2="378.5" stroke="#ec8f1e" stroke-width="0.7" opacity="0.55"/>
<rect x="262.8" y="373.5" width="2.0" height="2.0" fill="#ec8f1e" opacity="0.85"/>
<line x1="301.1" y1="389.6" x2="301.1" y2="397.6" stroke="#ec8f1e" stroke-width="0.7" opacity="0.55"/>
<line x1="299.8" y1="389.6" x2="302.4" y2="389.6" stroke="#ec8f1e" stroke-width="0.7" opacity="0.55"/>
<line x1="299.8" y1="397.6" x2="302.4" y2="397.6" stroke="#ec8f1e" stroke-width="0.7" opacity="0.55"/>
<rect x="300.1" y="392.6" width="2.0" height="2.0" fill="#ec8f1e" opacity="0.85"/>
<line x1="338.4" y1="416.0" x2="338.4" y2="424.0" stroke="#ec8f1e" stroke-width="0.7" opacity="0.55"/>
<line x1="337.1" y1="416.0" x2="339.7" y2="416.0" stroke="#ec8f1e" stroke-width="0.7" opacity="0.55"/>
<line x1="337.1" y1="424.0" x2="339.7" y2="424.0" stroke="#ec8f1e" stroke-width="0.7" opacity="0.55"/>
<rect x="337.4" y="419.0" width="2.0" height="2.0" fill="#ec8f1e" opacity="0.85"/>
<polyline points="226.50,370.94 228.37,371.00 230.23,371.06 232.09,371.12 233.96,371.18 235.82,371.25 237.69,371.33 239.56,371.41 241.42,371.49 243.28,371.58 245.15,371.67 247.01,371.76 248.88,371.87 250.75,371.98 252.61,372.09 254.47,372.21 256.34,372.34 258.20,372.47 260.07,372.62 261.94,372.77 263.80,372.93 265.66,373.09 267.53,373.27 269.39,373.46 271.26,373.65 273.12,373.86 274.99,374.07 276.86,374.30 278.72,374.54 280.58,374.79 282.45,375.06 284.31,375.34 286.18,375.63 288.05,375.94 289.91,376.26 291.77,376.60 293.64,376.95 295.50,377.32 297.37,377.71 299.24,378.11 301.10,378.53 302.96,378.97 304.83,379.43 306.69,379.91 308.56,380.41 310.43,380.93 312.29,381.47 314.15,382.03 316.02,382.61 317.88,383.21 319.75,383.83 321.62,384.48 323.48,385.14 325.34,385.83 327.21,386.54 329.07,387.26 330.94,388.01 332.81,388.78 334.67,389.56 336.53,390.37 338.40,391.19" fill="none" stroke="#c8137c" stroke-width="0.95"/>
<line x1="263.8" y1="369.2" x2="263.8" y2="377.2" stroke="#c8137c" stroke-width="0.7" opacity="0.55"/>
<line x1="262.5" y1="369.2" x2="265.1" y2="369.2" stroke="#c8137c" stroke-width="0.7" opacity="0.55"/>
<line x1="262.5" y1="377.2" x2="265.1" y2="377.2" stroke="#c8137c" stroke-width="0.7" opacity="0.55"/>
<rect x="262.8" y="372.2" width="2.0" height="2.0" fill="#c8137c" opacity="0.85"/>
<line x1="301.1" y1="374.7" x2="301.1" y2="382.7" stroke="#c8137c" stroke-width="0.7" opacity="0.55"/>
<line x1="299.8" y1="374.7" x2="302.4" y2="374.7" stroke="#c8137c" stroke-width="0.7" opacity="0.55"/>
<line x1="299.8" y1="382.7" x2="302.4" y2="382.7" stroke="#c8137c" stroke-width="0.7" opacity="0.55"/>
<rect x="300.1" y="377.7" width="2.0" height="2.0" fill="#c8137c" opacity="0.85"/>
<line x1="338.4" y1="387.1" x2="338.4" y2="395.1" stroke="#c8137c" stroke-width="0.7" opacity="0.55"/>
<line x1="337.1" y1="387.1" x2="339.7" y2="387.1" stroke="#c8137c" stroke-width="0.7" opacity="0.55"/>
<line x1="337.1" y1="395.1" x2="339.7" y2="395.1" stroke="#c8137c" stroke-width="0.7" opacity="0.55"/>
<rect x="337.4" y="390.1" width="2.0" height="2.0" fill="#c8137c" opacity="0.85"/>
<line x1="343.5" y1="419" x2="343.5" y2="433.7" stroke="#505050" stroke-width="1"/>
<circle cx="346.3" cy="424.55" r="0.95" fill="#1a1a1a"/>
<circle cx="346.3" cy="428.05" r="0.95" fill="#1a1a1a"/>
<line x1="348.5" y1="391.1" x2="348.5" y2="432.2" stroke="#505050" stroke-width="1"/>
<circle cx="351.5" cy="408.30" r="0.95" fill="#1a1a1a"/>
<circle cx="351.5" cy="411.80" r="0.95" fill="#1a1a1a"/>
<circle cx="351.5" cy="415.30" r="0.95" fill="#1a1a1a"/>
<line x1="384.4" y1="363.6" x2="384.4" y2="435.0" stroke="#1a1a1a" stroke-width="1.5"/>
<line x1="384.4" y1="435.0" x2="500.1" y2="435.0" stroke="#1a1a1a" stroke-width="1.5"/>
<line x1="380.4" y1="435.0" x2="384.4" y2="435.0" stroke="#1a1a1a" stroke-width="1.1"/>
<text transform="matrix(0.9,0,0,1,377.6,438.1)" font-size="8.8" fill="#303030" text-anchor="end">0</text>
<line x1="380.4" y1="418.9" x2="384.4" y2="418.9" stroke="#1a1a1a" stroke-width="1.1"/>
<text transform="matrix(0.9,0,0,1,377.6,422.0)" font-size="8.8" fill="#303030" text-anchor="end">25</text>
<line x1="380.4" y1="402.7" x2="384.4" y2="402.7" stroke="#1a1a1a" stroke-width="1.1"/>
<text transform="matrix(0.9,0,0,1,377.6,405.8)" font-size="8.8" fill="#303030" text-anchor="end">50</text>
<line x1="380.4" y1="386.6" x2="384.4" y2="386.6" stroke="#1a1a1a" stroke-width="1.1"/>
<text transform="matrix(0.9,0,0,1,377.6,389.7)" font-size="8.8" fill="#303030" text-anchor="end">75</text>
<line x1="380.4" y1="370.4" x2="384.4" y2="370.4" stroke="#1a1a1a" stroke-width="1.1"/>
<text transform="matrix(0.9,0,0,1,377.6,373.5)" font-size="8.8" fill="#303030" text-anchor="end">100</text>
<line x1="384.4" y1="435.0" x2="384.4" y2="438.6" stroke="#1a1a1a" stroke-width="1.1"/>
<text transform="matrix(0.9,0,0,1,384.1,449.4)" font-size="8.8" fill="#303030" text-anchor="middle">–1</text>
<line x1="421.8" y1="435.0" x2="421.8" y2="438.6" stroke="#1a1a1a" stroke-width="1.1"/>
<text transform="matrix(0.9,0,0,1,421.5,449.4)" font-size="8.8" fill="#303030" text-anchor="middle">–2</text>
<line x1="459.2" y1="435.0" x2="459.2" y2="438.6" stroke="#1a1a1a" stroke-width="1.1"/>
<text transform="matrix(0.9,0,0,1,458.9,449.4)" font-size="8.8" fill="#303030" text-anchor="middle">–3</text>
<line x1="496.6" y1="435.0" x2="496.6" y2="438.6" stroke="#1a1a1a" stroke-width="1.1"/>
<text transform="matrix(0.9,0,0,1,496.3,449.4)" font-size="8.8" fill="#303030" text-anchor="middle">–4</text>
<text x="443" y="357.4" font-size="10.6" fill="#303030" text-anchor="middle">Ida + Romi</text>
<line x1="386.4" y1="402.5" x2="496.6" y2="402.5" stroke="#222" stroke-width="1" stroke-dasharray="1 1.6"/>
<line x1="418.5" y1="404.1" x2="418.5" y2="435.0" stroke="#222" stroke-width="1" stroke-dasharray="1 1.6"/>
<line x1="496.5" y1="404.1" x2="496.5" y2="435.0" stroke="#222" stroke-width="1" stroke-dasharray="1 1.6"/>
<polyline points="384.40,374.79 386.27,375.43 388.14,376.15 390.01,376.97 391.88,377.88 393.75,378.90 395.62,380.04 397.49,381.30 399.36,382.69 401.23,384.22 403.10,385.87 404.97,387.65 406.84,389.56 408.71,391.59 410.58,393.72 412.45,395.94 414.32,398.23 416.19,400.57 418.06,402.93 419.93,405.28 421.80,407.61 423.67,409.89 425.54,412.09 427.41,414.20 429.28,416.21 431.15,418.10 433.02,419.86 434.89,421.49 436.76,422.98 438.63,424.35 440.50,425.58 442.37,426.70 444.24,427.70 446.11,428.60 447.98,429.39 449.85,430.10 451.72,430.72 453.59,431.27 455.46,431.75 457.33,432.17 459.20,432.54 461.07,432.87 462.94,433.15 464.81,433.39 466.68,433.61 468.55,433.79 470.42,433.95 472.29,434.09 474.16,434.22 476.03,434.32 477.90,434.41 479.77,434.49 481.64,434.56 483.51,434.62 485.38,434.67 487.25,434.72 489.12,434.75 490.99,434.79 492.86,434.82 494.73,434.84 496.60,434.86" fill="none" stroke="#7f78ba" stroke-width="0.95"/>
<line x1="421.8" y1="403.9" x2="421.8" y2="411.9" stroke="#7f78ba" stroke-width="0.7" opacity="0.55"/>
<line x1="420.5" y1="403.9" x2="423.1" y2="403.9" stroke="#7f78ba" stroke-width="0.7" opacity="0.55"/>
<line x1="420.5" y1="411.9" x2="423.1" y2="411.9" stroke="#7f78ba" stroke-width="0.7" opacity="0.55"/>
<rect x="420.8" y="406.9" width="2.0" height="2.0" fill="#7f78ba" opacity="0.85"/>
<line x1="459.2" y1="422.6" x2="459.2" y2="430.6" stroke="#7f78ba" stroke-width="0.7" opacity="0.55"/>
<line x1="457.9" y1="422.6" x2="460.5" y2="422.6" stroke="#7f78ba" stroke-width="0.7" opacity="0.55"/>
<line x1="457.9" y1="430.6" x2="460.5" y2="430.6" stroke="#7f78ba" stroke-width="0.7" opacity="0.55"/>
<rect x="458.2" y="425.6" width="2.0" height="2.0" fill="#7f78ba" opacity="0.85"/>
<line x1="496.6" y1="425.8" x2="496.6" y2="433.8" stroke="#7f78ba" stroke-width="0.7" opacity="0.55"/>
<line x1="495.3" y1="425.8" x2="497.9" y2="425.8" stroke="#7f78ba" stroke-width="0.7" opacity="0.55"/>
<line x1="495.3" y1="433.8" x2="497.9" y2="433.8" stroke="#7f78ba" stroke-width="0.7" opacity="0.55"/>
<rect x="495.6" y="428.8" width="2.0" height="2.0" fill="#7f78ba" opacity="0.85"/>
<polyline points="384.40,377.83 386.27,378.24 388.14,378.66 390.01,379.07 391.88,379.49 393.75,379.90 395.62,380.32 397.49,380.73 399.36,381.15 401.23,381.56 403.10,381.97 404.97,382.39 406.84,382.80 408.71,383.22 410.58,383.63 412.45,384.05 414.32,384.46 416.19,384.88 418.06,385.29 419.93,385.70 421.80,386.12 423.67,386.53 425.54,386.95 427.41,387.36 429.28,387.78 431.15,388.19 433.02,388.61 434.89,389.02 436.76,389.44 438.63,389.85 440.50,390.26 442.37,390.68 444.24,391.09 446.11,391.51 447.98,391.92 449.85,392.34 451.72,392.75 453.59,393.17 455.46,393.58 457.33,394.00 459.20,394.41 461.07,394.82 462.94,395.24 464.81,395.65 466.68,396.07 468.55,396.48 470.42,396.90 472.29,397.31 474.16,397.73 476.03,398.14 477.90,398.55 479.77,398.97 481.64,399.38 483.51,399.80 485.38,400.21 487.25,400.63 489.12,401.04 490.99,401.46 492.86,401.87 494.73,402.29 496.60,402.70" fill="none" stroke="#ec8f1e" stroke-width="0.95"/>
<line x1="421.8" y1="382.1" x2="421.8" y2="390.1" stroke="#ec8f1e" stroke-width="0.7" opacity="0.55"/>
<line x1="420.5" y1="382.1" x2="423.1" y2="382.1" stroke="#ec8f1e" stroke-width="0.7" opacity="0.55"/>
<line x1="420.5" y1="390.1" x2="423.1" y2="390.1" stroke="#ec8f1e" stroke-width="0.7" opacity="0.55"/>
<rect x="420.8" y="385.1" width="2.0" height="2.0" fill="#ec8f1e" opacity="0.85"/>
<line x1="459.2" y1="390.4" x2="459.2" y2="398.4" stroke="#ec8f1e" stroke-width="0.7" opacity="0.55"/>
<line x1="457.9" y1="390.4" x2="460.5" y2="390.4" stroke="#ec8f1e" stroke-width="0.7" opacity="0.55"/>
<line x1="457.9" y1="398.4" x2="460.5" y2="398.4" stroke="#ec8f1e" stroke-width="0.7" opacity="0.55"/>
<rect x="458.2" y="393.4" width="2.0" height="2.0" fill="#ec8f1e" opacity="0.85"/>
<line x1="496.6" y1="398.7" x2="496.6" y2="406.7" stroke="#ec8f1e" stroke-width="0.7" opacity="0.55"/>
<line x1="495.3" y1="398.7" x2="497.9" y2="398.7" stroke="#ec8f1e" stroke-width="0.7" opacity="0.55"/>
<line x1="495.3" y1="406.7" x2="497.9" y2="406.7" stroke="#ec8f1e" stroke-width="0.7" opacity="0.55"/>
<rect x="495.6" y="401.7" width="2.0" height="2.0" fill="#ec8f1e" opacity="0.85"/>
<polyline points="384.40,383.64 386.27,383.64 388.14,383.64 390.01,383.64 391.88,383.64 393.75,383.64 395.62,383.64 397.49,383.64 399.36,383.64 401.23,383.64 403.10,383.64 404.97,383.64 406.84,383.64 408.71,383.64 410.58,383.64 412.45,383.64 414.32,383.64 416.19,383.64 418.06,383.64 419.93,383.64 421.80,383.64 423.67,383.64 425.54,383.64 427.41,383.64 429.28,383.64 431.15,383.64 433.02,383.64 434.89,383.64 436.76,383.64 438.63,383.64 440.50,383.64 442.37,383.64 444.24,383.64 446.11,383.64 447.98,383.64 449.85,383.64 451.72,383.64 453.59,383.64 455.46,383.64 457.33,383.64 459.20,383.64 461.07,383.64 462.94,383.64 464.81,383.64 466.68,383.64 468.55,383.64 470.42,383.64 472.29,383.64 474.16,383.64 476.03,383.64 477.90,383.64 479.77,383.64 481.64,383.64 483.51,383.64 485.38,383.64 487.25,383.64 489.12,383.64 490.99,383.64 492.86,383.64 494.73,383.64 496.60,383.64" fill="none" stroke="#c8137c" stroke-width="0.95"/>
<line x1="421.8" y1="379.6" x2="421.8" y2="387.6" stroke="#c8137c" stroke-width="0.7" opacity="0.55"/>
<line x1="420.5" y1="379.6" x2="423.1" y2="379.6" stroke="#c8137c" stroke-width="0.7" opacity="0.55"/>
<line x1="420.5" y1="387.6" x2="423.1" y2="387.6" stroke="#c8137c" stroke-width="0.7" opacity="0.55"/>
<rect x="420.8" y="382.6" width="2.0" height="2.0" fill="#c8137c" opacity="0.85"/>
<line x1="459.2" y1="379.6" x2="459.2" y2="387.6" stroke="#c8137c" stroke-width="0.7" opacity="0.55"/>
<line x1="457.9" y1="379.6" x2="460.5" y2="379.6" stroke="#c8137c" stroke-width="0.7" opacity="0.55"/>
<line x1="457.9" y1="387.6" x2="460.5" y2="387.6" stroke="#c8137c" stroke-width="0.7" opacity="0.55"/>
<rect x="458.2" y="382.6" width="2.0" height="2.0" fill="#c8137c" opacity="0.85"/>
<line x1="496.6" y1="379.6" x2="496.6" y2="387.6" stroke="#c8137c" stroke-width="0.7" opacity="0.55"/>
<line x1="495.3" y1="379.6" x2="497.9" y2="379.6" stroke="#c8137c" stroke-width="0.7" opacity="0.55"/>
<line x1="495.3" y1="387.6" x2="497.9" y2="387.6" stroke="#c8137c" stroke-width="0.7" opacity="0.55"/>
<rect x="495.6" y="382.6" width="2.0" height="2.0" fill="#c8137c" opacity="0.85"/>
<line x1="501.5" y1="403" x2="501.5" y2="430.5" stroke="#505050" stroke-width="1"/>
<circle cx="504.3" cy="413.30" r="0.95" fill="#1a1a1a"/>
<circle cx="504.3" cy="416.80" r="0.95" fill="#1a1a1a"/>
<circle cx="504.3" cy="420.30" r="0.95" fill="#1a1a1a"/>
<line x1="506.5" y1="384.3" x2="506.5" y2="430.5" stroke="#505050" stroke-width="1"/>
<circle cx="509.6" cy="403.90" r="0.95" fill="#1a1a1a"/>
<circle cx="509.6" cy="407.40" r="0.95" fill="#1a1a1a"/>
<circle cx="509.6" cy="410.90" r="0.95" fill="#1a1a1a"/>
<line x1="60.6" y1="477.8" x2="60.6" y2="549.2" stroke="#1a1a1a" stroke-width="1.5"/>
<line x1="60.6" y1="549.2" x2="176.0" y2="549.2" stroke="#1a1a1a" stroke-width="1.5"/>
<line x1="56.6" y1="549.2" x2="60.6" y2="549.2" stroke="#1a1a1a" stroke-width="1.1"/>
<text transform="matrix(0.9,0,0,1,53.8,552.3)" font-size="8.8" fill="#303030" text-anchor="end">0</text>
<line x1="56.6" y1="533.1" x2="60.6" y2="533.1" stroke="#1a1a1a" stroke-width="1.1"/>
<text transform="matrix(0.9,0,0,1,53.8,536.2)" font-size="8.8" fill="#303030" text-anchor="end">25</text>
<line x1="56.6" y1="516.9" x2="60.6" y2="516.9" stroke="#1a1a1a" stroke-width="1.1"/>
<text transform="matrix(0.9,0,0,1,53.8,520.0)" font-size="8.8" fill="#303030" text-anchor="end">50</text>
<line x1="56.6" y1="500.8" x2="60.6" y2="500.8" stroke="#1a1a1a" stroke-width="1.1"/>
<text transform="matrix(0.9,0,0,1,53.8,503.9)" font-size="8.8" fill="#303030" text-anchor="end">75</text>
<line x1="56.6" y1="484.6" x2="60.6" y2="484.6" stroke="#1a1a1a" stroke-width="1.1"/>
<text transform="matrix(0.9,0,0,1,53.8,487.7)" font-size="8.8" fill="#303030" text-anchor="end">100</text>
<line x1="60.6" y1="549.2" x2="60.6" y2="552.8000000000001" stroke="#1a1a1a" stroke-width="1.1"/>
<text transform="matrix(0.9,0,0,1,60.3,563.6)" font-size="8.8" fill="#303030" text-anchor="middle">–1</text>
<line x1="97.9" y1="549.2" x2="97.9" y2="552.8000000000001" stroke="#1a1a1a" stroke-width="1.1"/>
<text transform="matrix(0.9,0,0,1,97.6,563.6)" font-size="8.8" fill="#303030" text-anchor="middle">–2</text>
<line x1="135.2" y1="549.2" x2="135.2" y2="552.8000000000001" stroke="#1a1a1a" stroke-width="1.1"/>
<text transform="matrix(0.9,0,0,1,134.9,563.6)" font-size="8.8" fill="#303030" text-anchor="middle">–3</text>
<line x1="172.5" y1="549.2" x2="172.5" y2="552.8000000000001" stroke="#1a1a1a" stroke-width="1.1"/>
<text transform="matrix(0.9,0,0,1,172.2,563.6)" font-size="8.8" fill="#303030" text-anchor="middle">–4</text>
<text x="118.4" y="471.6" font-size="10.6" fill="#303030" text-anchor="middle">Cladri + Romi</text>
<line x1="62.6" y1="516.5" x2="146.0" y2="516.5" stroke="#222" stroke-width="1" stroke-dasharray="1 1.6"/>
<line x1="125.5" y1="518.1" x2="125.5" y2="549.2" stroke="#222" stroke-width="1" stroke-dasharray="1 1.6"/>
<line x1="130.5" y1="518.1" x2="130.5" y2="549.2" stroke="#222" stroke-width="1" stroke-dasharray="1 1.6"/>
<line x1="146.5" y1="518.1" x2="146.5" y2="549.2" stroke="#222" stroke-width="1" stroke-dasharray="1 1.6"/>
<polyline points="60.60,490.44 62.47,490.69 64.33,490.96 66.19,491.25 68.06,491.57 69.92,491.91 71.79,492.27 73.66,492.66 75.52,493.07 77.38,493.52 79.25,493.99 81.12,494.50 82.98,495.04 84.84,495.61 86.71,496.22 88.58,496.87 90.44,497.55 92.31,498.28 94.17,499.04 96.03,499.84 97.90,500.68 99.76,501.56 101.63,502.49 103.50,503.45 105.36,504.44 107.22,505.48 109.09,506.55 110.95,507.65 112.82,508.79 114.69,509.95 116.55,511.14 118.41,512.35 120.28,513.57 122.14,514.81 124.01,516.06 125.88,517.32 127.74,518.58 129.60,519.84 131.47,521.08 133.34,522.32 135.20,523.54 137.06,524.75 138.93,525.93 140.79,527.08 142.66,528.21 144.53,529.30 146.39,530.37 148.25,531.39 150.12,532.38 151.99,533.33 153.85,534.24 155.71,535.11 157.58,535.94 159.44,536.73 161.31,537.49 163.17,538.20 165.04,538.87 166.91,539.51 168.77,540.11 170.63,540.67 172.50,541.20" fill="none" stroke="#7f78ba" stroke-width="0.95"/>
<line x1="97.9" y1="496.8" x2="97.9" y2="504.8" stroke="#7f78ba" stroke-width="0.7" opacity="0.55"/>
<line x1="96.6" y1="496.8" x2="99.2" y2="496.8" stroke="#7f78ba" stroke-width="0.7" opacity="0.55"/>
<line x1="96.6" y1="504.8" x2="99.2" y2="504.8" stroke="#7f78ba" stroke-width="0.7" opacity="0.55"/>
<rect x="96.9" y="499.8" width="2.0" height="2.0" fill="#7f78ba" opacity="0.85"/>
<line x1="135.2" y1="519.7" x2="135.2" y2="527.7" stroke="#7f78ba" stroke-width="0.7" opacity="0.55"/>
<line x1="133.9" y1="519.7" x2="136.5" y2="519.7" stroke="#7f78ba" stroke-width="0.7" opacity="0.55"/>
<line x1="133.9" y1="527.7" x2="136.5" y2="527.7" stroke="#7f78ba" stroke-width="0.7" opacity="0.55"/>
<rect x="134.2" y="522.7" width="2.0" height="2.0" fill="#7f78ba" opacity="0.85"/>
<line x1="172.5" y1="537.2" x2="172.5" y2="545.2" stroke="#7f78ba" stroke-width="0.7" opacity="0.55"/>
<line x1="171.2" y1="537.2" x2="173.8" y2="537.2" stroke="#7f78ba" stroke-width="0.7" opacity="0.55"/>
<line x1="171.2" y1="545.2" x2="173.8" y2="545.2" stroke="#7f78ba" stroke-width="0.7" opacity="0.55"/>
<rect x="171.5" y="540.2" width="2.0" height="2.0" fill="#7f78ba" opacity="0.85"/>
<polyline points="60.60,487.18 62.47,487.30 64.33,487.43 66.19,487.57 68.06,487.72 69.92,487.89 71.79,488.07 73.66,488.26 75.52,488.47 77.38,488.69 79.25,488.94 81.12,489.20 82.98,489.48 84.84,489.78 86.71,490.11 88.58,490.46 90.44,490.83 92.31,491.23 94.17,491.66 96.03,492.12 97.90,492.61 99.76,493.13 101.63,493.69 103.50,494.27 105.36,494.90 107.22,495.56 109.09,496.26 110.95,496.99 112.82,497.76 114.69,498.57 116.55,499.41 118.41,500.29 120.28,501.21 122.14,502.16 124.01,503.14 125.88,504.15 127.74,505.19 129.60,506.26 131.47,507.34 133.34,508.45 135.20,509.57 137.06,510.70 138.93,511.84 140.79,512.98 142.66,514.13 144.53,515.26 146.39,516.39 148.25,517.51 150.12,518.61 151.99,519.69 153.85,520.74 155.71,521.77 157.58,522.77 159.44,523.74 161.31,524.68 163.17,525.58 165.04,526.45 166.91,527.28 168.77,528.08 170.63,528.84 172.50,529.56" fill="none" stroke="#ec8f1e" stroke-width="0.95"/>
<line x1="97.9" y1="489.0" x2="97.9" y2="497.0" stroke="#ec8f1e" stroke-width="0.7" opacity="0.55"/>
<line x1="96.6" y1="489.0" x2="99.2" y2="489.0" stroke="#ec8f1e" stroke-width="0.7" opacity="0.55"/>
<line x1="96.6" y1="497.0" x2="99.2" y2="497.0" stroke="#ec8f1e" stroke-width="0.7" opacity="0.55"/>
<rect x="96.9" y="492.0" width="2.0" height="2.0" fill="#ec8f1e" opacity="0.85"/>
<line x1="135.2" y1="504.8" x2="135.2" y2="512.8" stroke="#ec8f1e" stroke-width="0.7" opacity="0.55"/>
<line x1="133.9" y1="504.8" x2="136.5" y2="504.8" stroke="#ec8f1e" stroke-width="0.7" opacity="0.55"/>
<line x1="133.9" y1="512.8" x2="136.5" y2="512.8" stroke="#ec8f1e" stroke-width="0.7" opacity="0.55"/>
<rect x="134.2" y="507.8" width="2.0" height="2.0" fill="#ec8f1e" opacity="0.85"/>
<line x1="172.5" y1="525.4" x2="172.5" y2="533.4" stroke="#ec8f1e" stroke-width="0.7" opacity="0.55"/>
<line x1="171.2" y1="525.4" x2="173.8" y2="525.4" stroke="#ec8f1e" stroke-width="0.7" opacity="0.55"/>
<line x1="171.2" y1="533.4" x2="173.8" y2="533.4" stroke="#ec8f1e" stroke-width="0.7" opacity="0.55"/>
<rect x="171.5" y="528.4" width="2.0" height="2.0" fill="#ec8f1e" opacity="0.85"/>
<polyline points="60.60,489.85 62.47,490.12 64.33,490.41 66.19,490.72 68.06,491.06 69.92,491.41 71.79,491.79 73.66,492.18 75.52,492.61 77.38,493.06 79.25,493.54 81.12,494.04 82.98,494.57 84.84,495.13 86.71,495.73 88.58,496.35 90.44,497.00 92.31,497.69 94.17,498.40 96.03,499.15 97.90,499.93 99.76,500.74 101.63,501.58 103.50,502.45 105.36,503.35 107.22,504.27 109.09,505.23 110.95,506.20 112.82,507.20 114.69,508.21 116.55,509.25 118.41,510.30 120.28,511.36 122.14,512.42 124.01,513.50 125.88,514.58 127.74,515.65 129.60,516.73 131.47,517.79 133.34,518.85 135.20,519.89 137.06,520.92 138.93,521.93 140.79,522.93 142.66,523.89 144.53,524.84 146.39,525.76 148.25,526.65 150.12,527.51 151.99,528.34 153.85,529.14 155.71,529.91 157.58,530.65 159.44,531.36 161.31,532.04 163.17,532.68 165.04,533.30 166.91,533.88 168.77,534.43 170.63,534.96 172.50,535.45" fill="none" stroke="#c8137c" stroke-width="0.95"/>
<line x1="97.9" y1="496.0" x2="97.9" y2="504.0" stroke="#c8137c" stroke-width="0.7" opacity="0.55"/>
<line x1="96.6" y1="496.0" x2="99.2" y2="496.0" stroke="#c8137c" stroke-width="0.7" opacity="0.55"/>
<line x1="96.6" y1="504.0" x2="99.2" y2="504.0" stroke="#c8137c" stroke-width="0.7" opacity="0.55"/>
<rect x="96.9" y="499.0" width="2.0" height="2.0" fill="#c8137c" opacity="0.85"/>
<line x1="135.2" y1="516.1" x2="135.2" y2="524.1" stroke="#c8137c" stroke-width="0.7" opacity="0.55"/>
<line x1="133.9" y1="516.1" x2="136.5" y2="516.1" stroke="#c8137c" stroke-width="0.7" opacity="0.55"/>
<line x1="133.9" y1="524.1" x2="136.5" y2="524.1" stroke="#c8137c" stroke-width="0.7" opacity="0.55"/>
<rect x="134.2" y="519.1" width="2.0" height="2.0" fill="#c8137c" opacity="0.85"/>
<line x1="172.5" y1="531.4" x2="172.5" y2="539.4" stroke="#c8137c" stroke-width="0.7" opacity="0.55"/>
<line x1="171.2" y1="531.4" x2="173.8" y2="531.4" stroke="#c8137c" stroke-width="0.7" opacity="0.55"/>
<line x1="171.2" y1="539.4" x2="173.8" y2="539.4" stroke="#c8137c" stroke-width="0.7" opacity="0.55"/>
<rect x="171.5" y="534.4" width="2.0" height="2.0" fill="#c8137c" opacity="0.85"/>
<line x1="177.5" y1="528.9" x2="177.5" y2="541.7" stroke="#505050" stroke-width="1"/>
<circle cx="180.3" cy="531.60" r="0.95" fill="#1a1a1a"/>
<circle cx="180.3" cy="535.10" r="0.95" fill="#1a1a1a"/>
<circle cx="180.3" cy="538.60" r="0.95" fill="#1a1a1a"/>
<line x1="226.6" y1="477.4" x2="226.6" y2="548.8" stroke="#1a1a1a" stroke-width="1.5"/>
<line x1="226.6" y1="548.8" x2="342.0" y2="548.8" stroke="#1a1a1a" stroke-width="1.5"/>
<line x1="222.6" y1="548.8" x2="226.6" y2="548.8" stroke="#1a1a1a" stroke-width="1.1"/>
<text transform="matrix(0.9,0,0,1,219.8,551.9)" font-size="8.8" fill="#303030" text-anchor="end">0</text>
<line x1="222.6" y1="532.6" x2="226.6" y2="532.6" stroke="#1a1a1a" stroke-width="1.1"/>
<text transform="matrix(0.9,0,0,1,219.8,535.8)" font-size="8.8" fill="#303030" text-anchor="end">25</text>
<line x1="222.6" y1="516.5" x2="226.6" y2="516.5" stroke="#1a1a1a" stroke-width="1.1"/>
<text transform="matrix(0.9,0,0,1,219.8,519.6)" font-size="8.8" fill="#303030" text-anchor="end">50</text>
<line x1="222.6" y1="500.3" x2="226.6" y2="500.3" stroke="#1a1a1a" stroke-width="1.1"/>
<text transform="matrix(0.9,0,0,1,219.8,503.4)" font-size="8.8" fill="#303030" text-anchor="end">75</text>
<line x1="222.6" y1="484.2" x2="226.6" y2="484.2" stroke="#1a1a1a" stroke-width="1.1"/>
<text transform="matrix(0.9,0,0,1,219.8,487.3)" font-size="8.8" fill="#303030" text-anchor="end">100</text>
<line x1="226.6" y1="548.8" x2="226.6" y2="552.4" stroke="#1a1a1a" stroke-width="1.1"/>
<text transform="matrix(0.9,0,0,1,226.3,563.2)" font-size="8.8" fill="#303030" text-anchor="middle">–1</text>
<line x1="263.9" y1="548.8" x2="263.9" y2="552.4" stroke="#1a1a1a" stroke-width="1.1"/>
<text transform="matrix(0.9,0,0,1,263.6,563.2)" font-size="8.8" fill="#303030" text-anchor="middle">–2</text>
<line x1="301.2" y1="548.8" x2="301.2" y2="552.4" stroke="#1a1a1a" stroke-width="1.1"/>
<text transform="matrix(0.9,0,0,1,300.9,563.2)" font-size="8.8" fill="#303030" text-anchor="middle">–3</text>
<line x1="338.5" y1="548.8" x2="338.5" y2="552.4" stroke="#1a1a1a" stroke-width="1.1"/>
<text transform="matrix(0.9,0,0,1,338.2,563.2)" font-size="8.8" fill="#303030" text-anchor="middle">–4</text>
<text x="284.6" y="471.2" font-size="10.6" fill="#303030" text-anchor="middle">Romi + Veneto</text>
<line x1="228.6" y1="516.5" x2="287.5" y2="516.5" stroke="#222" stroke-width="1" stroke-dasharray="1 1.6"/>
<line x1="279.5" y1="518.1" x2="279.5" y2="548.8" stroke="#222" stroke-width="1" stroke-dasharray="1 1.6"/>
<line x1="282.5" y1="518.1" x2="282.5" y2="548.8" stroke="#222" stroke-width="1" stroke-dasharray="1 1.6"/>
<line x1="287.5" y1="518.1" x2="287.5" y2="548.8" stroke="#222" stroke-width="1" stroke-dasharray="1 1.6"/>
<polyline points="226.60,485.92 228.47,486.14 230.33,486.39 232.19,486.67 234.06,486.98 235.92,487.32 237.79,487.70 239.66,488.13 241.52,488.59 243.38,489.11 245.25,489.68 247.12,490.30 248.98,490.99 250.84,491.74 252.71,492.56 254.57,493.45 256.44,494.42 258.31,495.47 260.17,496.60 262.03,497.82 263.90,499.12 265.76,500.50 267.63,501.96 269.50,503.51 271.36,505.12 273.23,506.81 275.09,508.55 276.95,510.35 278.82,512.19 280.69,514.06 282.55,515.95 284.41,517.84 286.28,519.73 288.14,521.60 290.01,523.44 291.88,525.24 293.74,526.98 295.61,528.67 297.47,530.28 299.33,531.82 301.20,533.29 303.06,534.67 304.93,535.97 306.79,537.18 308.66,538.31 310.52,539.36 312.39,540.33 314.25,541.23 316.12,542.05 317.99,542.80 319.85,543.48 321.71,544.11 323.58,544.67 325.44,545.19 327.31,545.66 329.17,546.08 331.04,546.46 332.90,546.80 334.77,547.11 336.63,547.39 338.50,547.64" fill="none" stroke="#7f78ba" stroke-width="0.95"/>
<line x1="263.9" y1="494.4" x2="263.9" y2="502.4" stroke="#7f78ba" stroke-width="0.7" opacity="0.55"/>
<line x1="262.6" y1="494.4" x2="265.2" y2="494.4" stroke="#7f78ba" stroke-width="0.7" opacity="0.55"/>
<line x1="262.6" y1="502.4" x2="265.2" y2="502.4" stroke="#7f78ba" stroke-width="0.7" opacity="0.55"/>
<rect x="262.9" y="497.4" width="2.0" height="2.0" fill="#7f78ba" opacity="0.85"/>
<line x1="301.2" y1="528.6" x2="301.2" y2="536.6" stroke="#7f78ba" stroke-width="0.7" opacity="0.55"/>
<line x1="299.9" y1="528.6" x2="302.5" y2="528.6" stroke="#7f78ba" stroke-width="0.7" opacity="0.55"/>
<line x1="299.9" y1="536.6" x2="302.5" y2="536.6" stroke="#7f78ba" stroke-width="0.7" opacity="0.55"/>
<rect x="300.2" y="531.6" width="2.0" height="2.0" fill="#7f78ba" opacity="0.85"/>
<line x1="338.5" y1="543.8" x2="338.5" y2="551.8" stroke="#7f78ba" stroke-width="0.7" opacity="0.55"/>
<line x1="337.2" y1="543.8" x2="339.8" y2="543.8" stroke="#7f78ba" stroke-width="0.7" opacity="0.55"/>
<line x1="337.2" y1="551.8" x2="339.8" y2="551.8" stroke="#7f78ba" stroke-width="0.7" opacity="0.55"/>
<rect x="337.5" y="546.8" width="2.0" height="2.0" fill="#7f78ba" opacity="0.85"/>
<polyline points="226.60,484.99 228.47,485.13 230.33,485.30 232.19,485.48 234.06,485.68 235.92,485.91 237.79,486.17 239.66,486.46 241.52,486.78 243.38,487.14 245.25,487.54 247.12,487.99 248.98,488.49 250.84,489.04 252.71,489.65 254.57,490.33 256.44,491.08 258.31,491.90 260.17,492.80 262.03,493.79 263.90,494.87 265.76,496.03 267.63,497.29 269.50,498.64 271.36,500.09 273.23,501.63 275.09,503.26 276.95,504.98 278.82,506.77 280.69,508.63 282.55,510.54 284.41,512.50 286.28,514.50 288.14,516.51 290.01,518.52 291.88,520.52 293.74,522.49 295.61,524.43 297.47,526.31 299.33,528.12 301.20,529.86 303.06,531.52 304.93,533.09 306.79,534.57 308.66,535.96 310.52,537.25 312.39,538.45 314.25,539.55 316.12,540.57 317.99,541.50 319.85,542.35 321.71,543.12 323.58,543.82 325.44,544.46 327.31,545.03 329.17,545.55 331.04,546.01 332.90,546.43 334.77,546.80 336.63,547.14 338.50,547.44" fill="none" stroke="#ec8f1e" stroke-width="0.95"/>
<line x1="263.9" y1="490.6" x2="263.9" y2="498.6" stroke="#ec8f1e" stroke-width="0.7" opacity="0.55"/>
<line x1="262.6" y1="490.6" x2="265.2" y2="490.6" stroke="#ec8f1e" stroke-width="0.7" opacity="0.55"/>
<line x1="262.6" y1="498.6" x2="265.2" y2="498.6" stroke="#ec8f1e" stroke-width="0.7" opacity="0.55"/>
<rect x="262.9" y="493.6" width="2.0" height="2.0" fill="#ec8f1e" opacity="0.85"/>
<line x1="301.2" y1="525.5" x2="301.2" y2="533.5" stroke="#ec8f1e" stroke-width="0.7" opacity="0.55"/>
<line x1="299.9" y1="525.5" x2="302.5" y2="525.5" stroke="#ec8f1e" stroke-width="0.7" opacity="0.55"/>
<line x1="299.9" y1="533.5" x2="302.5" y2="533.5" stroke="#ec8f1e" stroke-width="0.7" opacity="0.55"/>
<rect x="300.2" y="528.5" width="2.0" height="2.0" fill="#ec8f1e" opacity="0.85"/>
<line x1="338.5" y1="543.5" x2="338.5" y2="551.5" stroke="#ec8f1e" stroke-width="0.7" opacity="0.55"/>
<line x1="337.2" y1="543.5" x2="339.8" y2="543.5" stroke="#ec8f1e" stroke-width="0.7" opacity="0.55"/>
<line x1="337.2" y1="551.5" x2="339.8" y2="551.5" stroke="#ec8f1e" stroke-width="0.7" opacity="0.55"/>
<rect x="337.5" y="546.5" width="2.0" height="2.0" fill="#ec8f1e" opacity="0.85"/>
<polyline points="226.60,487.12 228.47,487.45 230.33,487.82 232.19,488.22 234.06,488.66 235.92,489.14 237.79,489.67 239.66,490.24 241.52,490.87 243.38,491.55 245.25,492.30 247.12,493.10 248.98,493.97 250.84,494.90 252.71,495.91 254.57,496.98 256.44,498.13 258.31,499.35 260.17,500.64 262.03,502.00 263.90,503.42 265.76,504.92 267.63,506.47 269.50,508.07 271.36,509.72 273.23,511.41 275.09,513.12 276.95,514.86 278.82,516.61 280.69,518.37 282.55,520.11 284.41,521.84 286.28,523.53 288.14,525.20 290.01,526.81 291.88,528.38 293.74,529.89 295.61,531.33 297.47,532.71 299.33,534.02 301.20,535.26 303.06,536.43 304.93,537.53 306.79,538.55 308.66,539.51 310.52,540.40 312.39,541.22 314.25,541.98 316.12,542.68 317.99,543.32 319.85,543.91 321.71,544.46 323.58,544.95 325.44,545.40 327.31,545.81 329.17,546.19 331.04,546.53 332.90,546.84 334.77,547.12 336.63,547.37 338.50,547.61" fill="none" stroke="#c8137c" stroke-width="0.95"/>
<line x1="263.9" y1="499.8" x2="263.9" y2="507.8" stroke="#c8137c" stroke-width="0.7" opacity="0.55"/>
<line x1="262.6" y1="499.8" x2="265.2" y2="499.8" stroke="#c8137c" stroke-width="0.7" opacity="0.55"/>
<line x1="262.6" y1="507.8" x2="265.2" y2="507.8" stroke="#c8137c" stroke-width="0.7" opacity="0.55"/>
<rect x="262.9" y="502.8" width="2.0" height="2.0" fill="#c8137c" opacity="0.85"/>
<line x1="301.2" y1="531.6" x2="301.2" y2="539.6" stroke="#c8137c" stroke-width="0.7" opacity="0.55"/>
<line x1="299.9" y1="531.6" x2="302.5" y2="531.6" stroke="#c8137c" stroke-width="0.7" opacity="0.55"/>
<line x1="299.9" y1="539.6" x2="302.5" y2="539.6" stroke="#c8137c" stroke-width="0.7" opacity="0.55"/>
<rect x="300.2" y="534.6" width="2.0" height="2.0" fill="#c8137c" opacity="0.85"/>
<line x1="338.5" y1="543.5" x2="338.5" y2="551.5" stroke="#c8137c" stroke-width="0.7" opacity="0.55"/>
<line x1="337.2" y1="543.5" x2="339.8" y2="543.5" stroke="#c8137c" stroke-width="0.7" opacity="0.55"/>
<line x1="337.2" y1="551.5" x2="339.8" y2="551.5" stroke="#c8137c" stroke-width="0.7" opacity="0.55"/>
<rect x="337.5" y="546.5" width="2.0" height="2.0" fill="#c8137c" opacity="0.85"/>
<rect x="373.5" y="497" width="6.4" height="6.5" fill="#c8137c"/>
<rect x="373.5" y="512.5" width="6.4" height="6.5" fill="#ec8f1e"/>
<rect x="373.5" y="527.7" width="6.4" height="6.4" fill="#7f78ba"/>
<g font-size="8.6" fill="#303030">
<text transform="matrix(0.92,0,0,1,383.4,503.5)">PBMC</text>
<text transform="matrix(0.92,0,0,1,421.4,503.5)">n = 4</text>
<text transform="matrix(0.92,0,0,1,383.4,518.9)">T-cells</text>
<text transform="matrix(0.92,0,0,1,421.4,518.9)">n = 4</text>
<text transform="matrix(0.92,0,0,1,383.4,534.1)">T-PLL</text>
<text transform="matrix(0.92,0,0,1,421.4,534.1)">n = 7</text>
<text transform="matrix(0.95,0,0,1,391.8,548.4)" font-size="8.2">48hrs</text>
</g>
</svg></body></html>
